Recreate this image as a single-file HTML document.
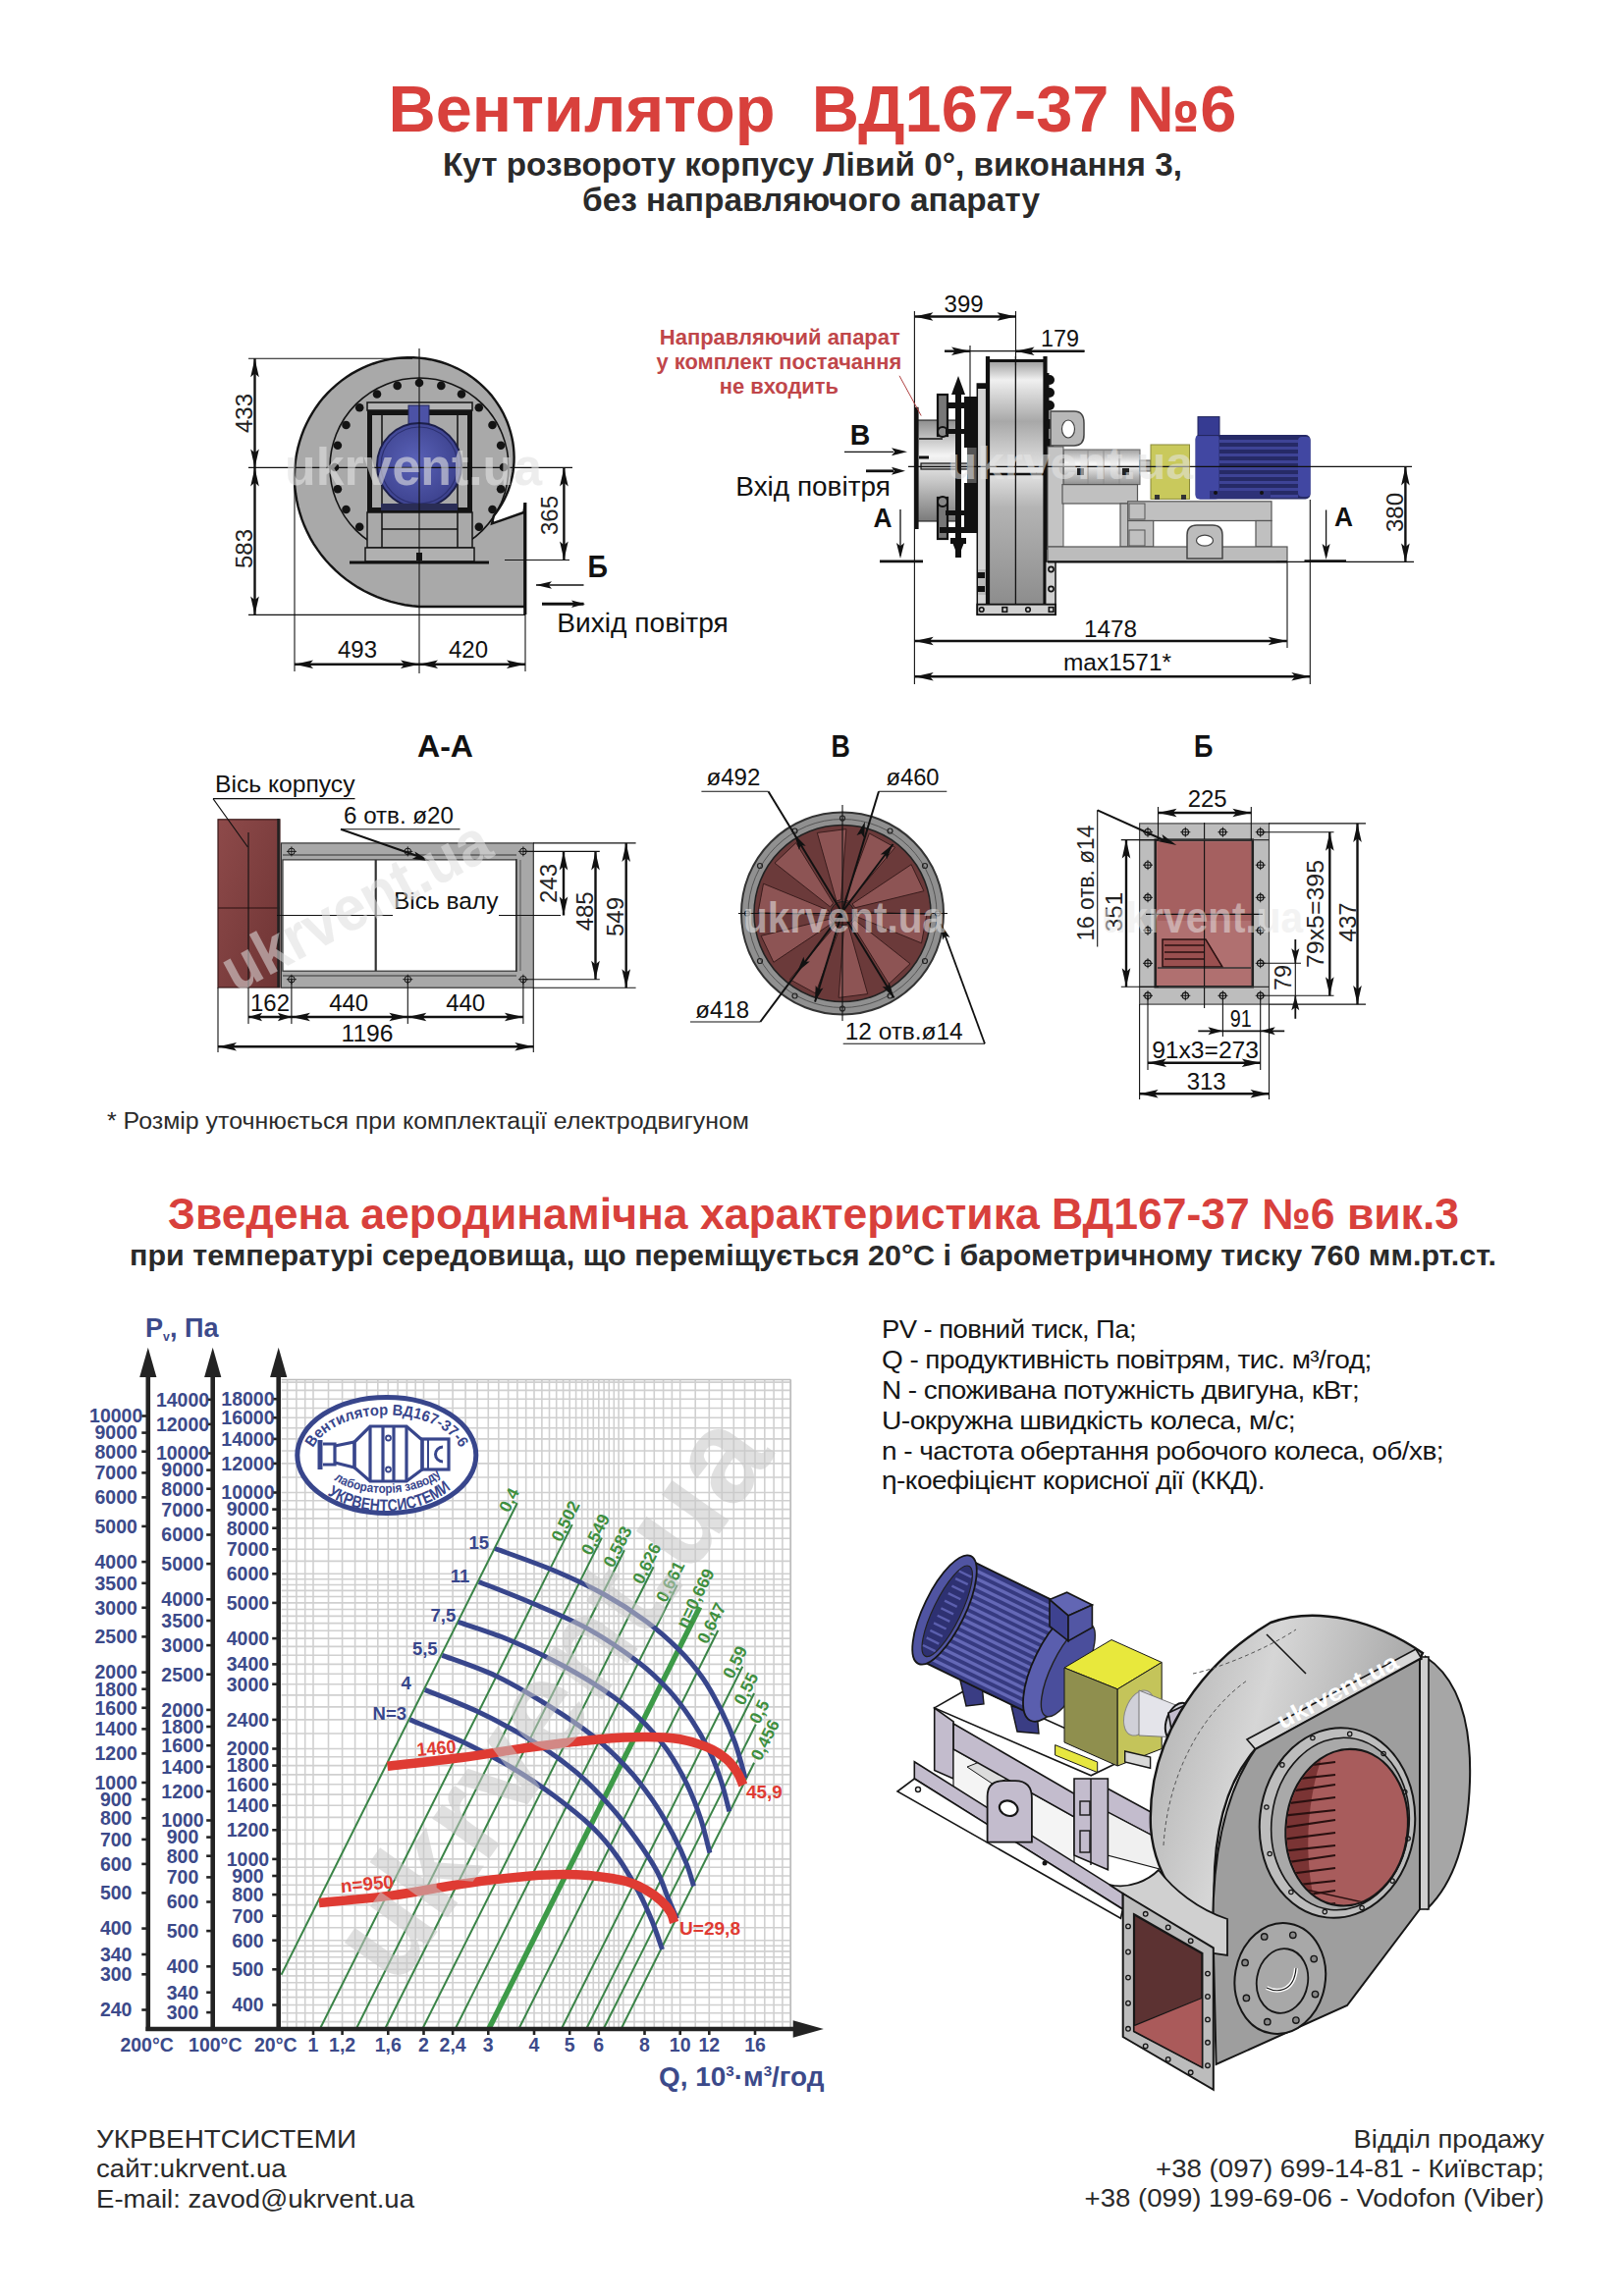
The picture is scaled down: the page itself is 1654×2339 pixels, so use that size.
<!DOCTYPE html>
<html><head><meta charset="utf-8"><title>ВД167-37 №6</title>
<style>
html,body{margin:0;padding:0;background:#fff;}
body{width:1654px;height:2339px;overflow:hidden;}
svg{display:block;font-family:"Liberation Sans",sans-serif;}
</style></head><body>
<svg width="1654" height="2339" viewBox="0 0 1654 2339">
<defs>
<linearGradient id="gCyl" x1="0" y1="0" x2="0" y2="1">
<stop offset="0" stop-color="#8e8e8e"/><stop offset="0.35" stop-color="#f4f4f4"/><stop offset="0.6" stop-color="#c8c8c8"/><stop offset="1" stop-color="#7a7a7a"/></linearGradient>
<linearGradient id="gDrum" x1="0" y1="0" x2="0" y2="1">
<stop offset="0" stop-color="#9a9a9a"/><stop offset="0.08" stop-color="#f0f0f0"/><stop offset="0.25" stop-color="#a8a8a8"/><stop offset="0.45" stop-color="#e6e6e6"/><stop offset="0.6" stop-color="#b4b4b4"/><stop offset="1" stop-color="#8c8c8c"/></linearGradient>
<linearGradient id="gShaft" x1="0" y1="0" x2="0" y2="1">
<stop offset="0" stop-color="#a0a0a0"/><stop offset="0.4" stop-color="#f8f8f8"/><stop offset="1" stop-color="#909090"/></linearGradient>
<radialGradient id="gMotorC" cx="0.45" cy="0.45" r="0.6">
<stop offset="0" stop-color="#5a62b8"/><stop offset="1" stop-color="#3a3f8a"/></radialGradient>
<linearGradient id="gMotorS" x1="0" y1="0" x2="0" y2="1">
<stop offset="0" stop-color="#2a2d6a"/><stop offset="0.5" stop-color="#3a3f90"/><stop offset="1" stop-color="#252860"/></linearGradient>
<linearGradient id="gScroll" x1="0" y1="0" x2="1" y2="0.3"><stop offset="0" stop-color="#acacac"/><stop offset="0.45" stop-color="#d6d6d6"/><stop offset="0.75" stop-color="#bababa"/><stop offset="1" stop-color="#a2a2a2"/></linearGradient>
<linearGradient id="gRed" x1="0" y1="0" x2="1" y2="1">
<stop offset="0" stop-color="#8e4a4a"/><stop offset="1" stop-color="#6e3434"/></linearGradient>
</defs>
<text x="395.5" y="134.0" font-size="66.5" font-weight="bold" fill="#d8403c" textLength="864.0" lengthAdjust="spacingAndGlyphs">Вентилятор  ВД167-37 №6</text>
<text x="451.0" y="179.0" font-size="33.5" font-weight="bold" fill="#2a2a2a" textLength="753.0" lengthAdjust="spacingAndGlyphs">Кут розвороту корпусу Лівий 0°, виконання 3,</text>
<text x="593.0" y="215.0" font-size="33.5" font-weight="bold" fill="#2a2a2a" textLength="466.0" lengthAdjust="spacingAndGlyphs">без направляючого апарату</text>
<text x="109.0" y="1150.0" font-size="23.5" fill="#2a2a2a" textLength="654.0" lengthAdjust="spacingAndGlyphs">* Розмір уточнюється при комплектації електродвигуном</text>
<text x="171.0" y="1252.0" font-size="44" font-weight="bold" fill="#d8403c" textLength="1315.0" lengthAdjust="spacingAndGlyphs">Зведена аеродинамічна характеристика ВД167-37 №6 вик.3</text>
<text x="132.0" y="1288.5" font-size="29.5" font-weight="bold" fill="#2a2a2a" textLength="1392.0" lengthAdjust="spacingAndGlyphs">при температурі середовища, що переміщується 20°С і барометричному тиску 760 мм.рт.ст.</text>
<text x="898.0" y="1363.4" font-size="25" fill="#161616" textLength="259.0" lengthAdjust="spacingAndGlyphs" letter-spacing="-0.5">PV - повний тиск, Па;</text>
<text x="898.0" y="1394.2" font-size="25" fill="#161616" textLength="498.7" lengthAdjust="spacingAndGlyphs" letter-spacing="-0.5">Q - продуктивність повітрям, тис. м³/год;</text>
<text x="898.0" y="1425.0" font-size="25" fill="#161616" textLength="486.3" lengthAdjust="spacingAndGlyphs" letter-spacing="-0.5">N - споживана потужність двигуна, кВт;</text>
<text x="898.0" y="1455.8" font-size="25" fill="#161616" textLength="421.0" lengthAdjust="spacingAndGlyphs" letter-spacing="-0.5">U-окружна швидкість колеса, м/с;</text>
<text x="898.0" y="1486.6" font-size="25" fill="#161616" textLength="571.9" lengthAdjust="spacingAndGlyphs" letter-spacing="-0.5">n - частота обертання робочого колеса, об/хв;</text>
<text x="898.0" y="1517.4" font-size="25" fill="#161616" textLength="390.0" lengthAdjust="spacingAndGlyphs" letter-spacing="-0.5">η-коефіцієнт корисної дії (ККД).</text>
<text x="98.0" y="2187.7" font-size="26.5" fill="#2a2a2a" textLength="265.0" lengthAdjust="spacingAndGlyphs">УКРВЕНТСИСТЕМИ</text>
<text x="98.0" y="2218.0" font-size="26.5" fill="#2a2a2a" textLength="193.7" lengthAdjust="spacingAndGlyphs">сайт:ukrvent.ua</text>
<text x="98.0" y="2248.7" font-size="26.5" fill="#2a2a2a" textLength="324.0" lengthAdjust="spacingAndGlyphs">E-mail: zavod@ukrvent.ua</text>
<text x="1572.6" y="2187.7" font-size="26.5" fill="#2a2a2a" text-anchor="end" textLength="194.0" lengthAdjust="spacingAndGlyphs">Відділ продажу</text>
<text x="1572.6" y="2217.9" font-size="26.5" fill="#2a2a2a" text-anchor="end" textLength="395.6" lengthAdjust="spacingAndGlyphs">+38 (097) 699-14-81 - Київстар;</text>
<text x="1572.6" y="2247.7" font-size="26.5" fill="#2a2a2a" text-anchor="end" textLength="468.0" lengthAdjust="spacingAndGlyphs">+38 (099) 199-69-06 - Vodofon (Viber)</text>
<path d="M427.0,618.0 L419.6,617.3 L412.3,616.2 L405.0,614.7 L397.9,612.9 L390.9,610.7 L384.1,608.1 L377.4,605.2 L370.9,602.0 L364.6,598.4 L358.6,594.6 L352.7,590.4 L347.1,585.9 L341.8,581.2 L336.8,576.2 L332.0,571.0 L327.5,565.6 L323.4,559.9 L319.5,554.1 L316.0,548.1 L312.9,541.9 L310.0,535.6 L307.5,529.2 L305.4,522.7 L303.6,516.1 L302.2,509.5 L301.1,502.8 L300.3,496.1 L300.0,489.4 L300.0,482.7 L300.3,476.0 L301.0,469.4 L302.0,462.9 L303.4,456.4 L305.1,450.1 L307.1,443.9 L309.4,437.8 L312.0,431.9 L315.0,426.1 L318.2,420.6 L321.7,415.2 L325.4,410.0 L329.4,405.1 L333.7,400.4 L338.1,396.0 L342.8,391.8 L347.7,387.9 L352.7,384.3 L357.9,380.9 L363.3,377.9 L368.7,375.1 L374.3,372.7 L380.0,370.5 L385.8,368.7 L391.6,367.1 L397.5,365.9 L403.4,365.0 L409.3,364.5 L415.2,364.2 L421.1,364.2 L427.0,364.6 L432.8,365.3 L438.5,366.2 L444.2,367.5 L449.7,369.0 L455.2,370.9 L460.5,373.0 L465.6,375.3 L470.7,378.0 L475.5,380.8 L480.2,383.9 L484.6,387.3 L488.9,390.8 L492.9,394.6 L496.8,398.5 L500.4,402.6 L503.7,406.9 L506.8,411.3 L509.7,415.9 L512.3,420.6 L514.6,425.4 L516.7,430.3 L518.5,435.3 L520.0,440.3 L521.3,445.4 L522.3,450.5 L523.0,455.6 L523.4,460.7 L523.6,465.8 L523.5,470.9 L523.1,476.0 L522.5,481.0 L521.6,485.9 L520.4,490.8 L519.0,495.6 L517.4,500.2 L515.5,504.8 L513.4,509.2 L511.1,513.4 L508.5,517.5 L505.8,521.5 L502.9,525.3 L501,533.5 L533.5,522 L534.8,513 L534.8,618 L427,618 Z" fill="#a9a9a9" stroke="#141414" stroke-width="2.4"/>
<circle cx="427.0" cy="476.0" r="91.0" fill="none" stroke="#141414" stroke-width="1.6"/>
<circle cx="427.0" cy="390.0" r="4.3" fill="#141414" stroke="none" stroke-width="1"/>
<circle cx="449.3" cy="392.9" r="4.3" fill="#141414" stroke="none" stroke-width="1"/>
<circle cx="470.0" cy="401.5" r="4.3" fill="#141414" stroke="none" stroke-width="1"/>
<circle cx="487.8" cy="415.2" r="4.3" fill="#141414" stroke="none" stroke-width="1"/>
<circle cx="501.5" cy="433.0" r="4.3" fill="#141414" stroke="none" stroke-width="1"/>
<circle cx="510.1" cy="453.7" r="4.3" fill="#141414" stroke="none" stroke-width="1"/>
<circle cx="513.0" cy="476.0" r="4.3" fill="#141414" stroke="none" stroke-width="1"/>
<circle cx="510.1" cy="498.3" r="4.3" fill="#141414" stroke="none" stroke-width="1"/>
<circle cx="501.5" cy="519.0" r="4.3" fill="#141414" stroke="none" stroke-width="1"/>
<circle cx="487.8" cy="536.8" r="4.3" fill="#141414" stroke="none" stroke-width="1"/>
<circle cx="366.2" cy="536.8" r="4.3" fill="#141414" stroke="none" stroke-width="1"/>
<circle cx="352.5" cy="519.0" r="4.3" fill="#141414" stroke="none" stroke-width="1"/>
<circle cx="343.9" cy="498.3" r="4.3" fill="#141414" stroke="none" stroke-width="1"/>
<circle cx="341.0" cy="476.0" r="4.3" fill="#141414" stroke="none" stroke-width="1"/>
<circle cx="343.9" cy="453.7" r="4.3" fill="#141414" stroke="none" stroke-width="1"/>
<circle cx="352.5" cy="433.0" r="4.3" fill="#141414" stroke="none" stroke-width="1"/>
<circle cx="366.2" cy="415.2" r="4.3" fill="#141414" stroke="none" stroke-width="1"/>
<circle cx="384.0" cy="401.5" r="4.3" fill="#141414" stroke="none" stroke-width="1"/>
<circle cx="404.7" cy="392.9" r="4.3" fill="#141414" stroke="none" stroke-width="1"/>
<rect x="374.0" y="410.0" width="107.0" height="8.0" fill="#b4b4b4" stroke="#141414" stroke-width="1.5"/>
<rect x="374.0" y="418.0" width="107.0" height="104.0" fill="#a9a9a9" stroke="none" stroke-width="1"/>
<rect x="374.0" y="418.0" width="5.0" height="104.0" fill="#141414" stroke="none" stroke-width="1"/>
<rect x="476.0" y="418.0" width="5.0" height="104.0" fill="#141414" stroke="none" stroke-width="1"/>
<rect x="374.0" y="418.0" width="107.0" height="5.0" fill="#141414" stroke="none" stroke-width="1"/>
<rect x="374.0" y="517.0" width="107.0" height="5.0" fill="#141414" stroke="none" stroke-width="1"/>
<line x1="389.0" y1="423.0" x2="389.0" y2="517.0" stroke="#111" stroke-width="1.5"/>
<line x1="466.0" y1="423.0" x2="466.0" y2="517.0" stroke="#111" stroke-width="1.5"/>
<rect x="374.0" y="522.0" width="107.0" height="36.0" fill="#a9a9a9" stroke="#141414" stroke-width="1.5"/>
<line x1="389.0" y1="522.0" x2="389.0" y2="558.0" stroke="#111" stroke-width="1.5"/>
<line x1="466.0" y1="522.0" x2="466.0" y2="558.0" stroke="#111" stroke-width="1.5"/>
<line x1="389.0" y1="539.0" x2="466.0" y2="539.0" stroke="#111" stroke-width="1.5"/>
<rect x="372.0" y="558.0" width="111.0" height="14.0" fill="#b0b0b0" stroke="#141414" stroke-width="1.5"/>
<line x1="356.0" y1="573.0" x2="498.0" y2="573.0" stroke="#111" stroke-width="3.2"/>
<rect x="424.0" y="563.0" width="6.0" height="8.0" fill="#141414" stroke="none" stroke-width="1"/>
<rect x="416.0" y="413.0" width="21.0" height="20.0" fill="#4c52a6" stroke="#22265a" stroke-width="1"/>
<circle cx="427.0" cy="474.0" r="43.0" fill="url(#gMotorC)" stroke="#1c1f4a" stroke-width="2"/>
<circle cx="427.0" cy="474.0" r="39.0" fill="none" stroke="#2c3070" stroke-width="1.2"/>
<rect x="388.0" y="513.0" width="78.0" height="7.0" fill="#2a2d55" stroke="none" stroke-width="1"/>
<line x1="427.0" y1="355.0" x2="427.0" y2="686.0" stroke="#111" stroke-width="1.1"/>
<line x1="253.0" y1="476.4" x2="583.0" y2="476.4" stroke="#111" stroke-width="1.1"/>
<line x1="253.0" y1="365.2" x2="420.0" y2="365.2" stroke="#111" stroke-width="1.1"/>
<line x1="253.0" y1="626.4" x2="535.0" y2="626.4" stroke="#111" stroke-width="1.1"/>
<line x1="259.5" y1="365.2" x2="259.5" y2="476.4" stroke="#111" stroke-width="2.4"/>
<path d="M259.5,365.2 L263.8,384.2 L259.5,380.4 L255.2,384.2 Z" fill="#111"/>
<path d="M259.5,476.4 L255.2,457.4 L259.5,461.2 L263.8,457.4 Z" fill="#111"/>
<line x1="259.5" y1="476.4" x2="259.5" y2="626.4" stroke="#111" stroke-width="2.4"/>
<path d="M259.5,476.4 L263.8,495.4 L259.5,491.6 L255.2,495.4 Z" fill="#111"/>
<path d="M259.5,626.4 L255.2,607.4 L259.5,611.2 L263.8,607.4 Z" fill="#111"/>
<text transform="translate(248.0,421.0) rotate(-90)" x="0" y="8.6" font-size="24.5" fill="#222" text-anchor="middle" textLength="40.0" lengthAdjust="spacingAndGlyphs">433</text>
<text transform="translate(248.0,559.0) rotate(-90)" x="0" y="8.6" font-size="24.5" fill="#222" text-anchor="middle" textLength="40.0" lengthAdjust="spacingAndGlyphs">583</text>
<line x1="300.0" y1="476.0" x2="300.0" y2="684.0" stroke="#111" stroke-width="1.1"/>
<line x1="535.0" y1="626.0" x2="535.0" y2="684.0" stroke="#111" stroke-width="1.1"/>
<line x1="300.0" y1="676.8" x2="427.0" y2="676.8" stroke="#111" stroke-width="2.4"/>
<path d="M300.0,676.8 L319.0,672.5 L315.2,676.8 L319.0,681.1 Z" fill="#111"/>
<path d="M427.0,676.8 L408.0,681.1 L411.8,676.8 L408.0,672.5 Z" fill="#111"/>
<line x1="427.0" y1="676.8" x2="535.0" y2="676.8" stroke="#111" stroke-width="2.4"/>
<path d="M427.0,676.8 L446.0,672.5 L442.2,676.8 L446.0,681.1 Z" fill="#111"/>
<path d="M535.0,676.8 L516.0,681.1 L519.8,676.8 L516.0,672.5 Z" fill="#111"/>
<text x="364.0" y="669.7" font-size="24.5" fill="#111" text-anchor="middle" textLength="40.0" lengthAdjust="spacingAndGlyphs">493</text>
<text x="477.0" y="669.7" font-size="24.5" fill="#111" text-anchor="middle" textLength="40.0" lengthAdjust="spacingAndGlyphs">420</text>
<line x1="514.0" y1="570.5" x2="580.0" y2="570.5" stroke="#111" stroke-width="1.1"/>
<line x1="574.4" y1="476.5" x2="574.4" y2="570.5" stroke="#111" stroke-width="2.4"/>
<path d="M574.4,476.5 L578.7,495.5 L574.4,491.7 L570.1,495.5 Z" fill="#111"/>
<path d="M574.4,570.5 L570.1,551.5 L574.4,555.3 L578.7,551.5 Z" fill="#111"/>
<text transform="translate(559.0,525.0) rotate(-90)" x="0" y="8.6" font-size="24.5" fill="#222" text-anchor="middle" textLength="40.0" lengthAdjust="spacingAndGlyphs">365</text>
<line x1="534.8" y1="512.0" x2="534.8" y2="626.0" stroke="#111" stroke-width="3.2"/>
<text x="598.5" y="588.0" font-size="31" font-weight="bold" fill="#111" textLength="20.5" lengthAdjust="spacingAndGlyphs">Б</text>
<line x1="546.0" y1="596.0" x2="594.5" y2="596.0" stroke="#111" stroke-width="1.3"/>
<path d="M546.0,596.0 L562.0,592.2 L558.8,596.0 L562.0,599.8 Z" fill="#111"/>
<line x1="552.0" y1="615.3" x2="594.5" y2="615.3" stroke="#111" stroke-width="3"/>
<path d="M596.0,615.3 L582.0,619.1 L584.8,615.3 L582.0,611.5 Z" fill="#111"/>
<text x="567.3" y="643.6" font-size="27" fill="#111" textLength="174.5" lengthAdjust="spacingAndGlyphs">Вихід повітря</text>
<text x="290.0" y="494.0" font-size="54" font-weight="bold" fill="#e2e2e2" textLength="262.0" lengthAdjust="spacingAndGlyphs" opacity="0.6">ukrvent.ua</text>
<rect x="933.0" y="428.0" width="42.0" height="103.0" fill="url(#gCyl)" stroke="none" stroke-width="1"/>
<line x1="933.0" y1="428.0" x2="975.0" y2="428.0" stroke="#111" stroke-width="1.2"/>
<line x1="933.0" y1="531.0" x2="975.0" y2="531.0" stroke="#111" stroke-width="1.2"/>
<line x1="933.5" y1="414.8" x2="933.5" y2="539.0" stroke="#111" stroke-width="4.2"/>
<line x1="936.0" y1="447.0" x2="960.0" y2="447.0" stroke="#111" stroke-width="1.5"/>
<line x1="936.0" y1="466.0" x2="946.0" y2="466.0" stroke="#111" stroke-width="3"/>
<rect x="938.0" y="472.0" width="50.0" height="6.0" fill="#bdbdbd" stroke="#111" stroke-width="1.2"/>
<rect x="973.0" y="392.0" width="6.0" height="176.0" fill="#111" stroke="none" stroke-width="1"/>
<path d="M969,402 L976,383 L983,402 Z" fill="#111" stroke="none" stroke-width="1"/>
<path d="M969,550 L976,568 L983,550 Z" fill="#111" stroke="none" stroke-width="1"/>
<rect x="957.0" y="410.0" width="40.0" height="6.0" fill="#111" stroke="none" stroke-width="1"/>
<rect x="955.0" y="402.0" width="10.0" height="42.0" fill="#777" stroke="#111" stroke-width="2.2"/>
<circle cx="960.0" cy="440.0" r="5.0" fill="#888" stroke="#111" stroke-width="2"/>
<rect x="963.0" y="437.0" width="30.0" height="5.0" fill="#111" stroke="none" stroke-width="1"/>
<rect x="982.0" y="404.0" width="13.0" height="52.0" fill="#111" stroke="none" stroke-width="1"/>
<rect x="982.0" y="492.0" width="13.0" height="48.0" fill="#111" stroke="none" stroke-width="1"/>
<rect x="985.0" y="456.0" width="10.0" height="36.0" fill="#555" stroke="none" stroke-width="1"/>
<rect x="955.0" y="507.0" width="10.0" height="42.0" fill="#777" stroke="#111" stroke-width="2.2"/>
<circle cx="960.0" cy="511.0" r="5.0" fill="#888" stroke="#111" stroke-width="2"/>
<rect x="963.0" y="520.0" width="30.0" height="5.0" fill="#111" stroke="none" stroke-width="1"/>
<rect x="957.0" y="537.0" width="40.0" height="6.0" fill="#111" stroke="none" stroke-width="1"/>
<rect x="968.0" y="548.0" width="16.0" height="6.0" fill="#111" stroke="none" stroke-width="1"/>
<rect x="995.3" y="391.0" width="10.3" height="235.0" fill="#d4d4d4" stroke="#111" stroke-width="1.5"/>
<rect x="995.3" y="391.0" width="10.3" height="5.0" fill="#111" stroke="none" stroke-width="1"/>
<rect x="996.0" y="580.0" width="8.0" height="26.0" fill="#bbb" stroke="none" stroke-width="1"/>
<rect x="996.0" y="583.0" width="7.0" height="6.0" fill="#111" stroke="none" stroke-width="1"/>
<rect x="996.0" y="597.0" width="7.0" height="6.0" fill="#111" stroke="none" stroke-width="1"/>
<rect x="1005.6" y="367.0" width="59.1" height="250.0" fill="url(#gDrum)" stroke="none" stroke-width="1"/>
<line x1="1006.0" y1="363.0" x2="1006.0" y2="617.0" stroke="#111" stroke-width="4.2"/>
<line x1="1064.5" y1="363.0" x2="1064.5" y2="617.0" stroke="#111" stroke-width="4.2"/>
<line x1="1005.0" y1="367.5" x2="1065.0" y2="367.5" stroke="#111" stroke-width="3"/>
<line x1="1034.4" y1="363.0" x2="1034.4" y2="617.0" stroke="#111" stroke-width="1.3"/>
<line x1="1006.0" y1="483.0" x2="1064.0" y2="483.0" stroke="#111" stroke-width="2.4"/>
<line x1="1067.0" y1="380.0" x2="1067.0" y2="560.0" stroke="#111" stroke-width="3"/>
<circle cx="1069.0" cy="387.0" r="5.0" fill="#111" stroke="none" stroke-width="1"/>
<circle cx="1069.0" cy="400.0" r="5.0" fill="#111" stroke="none" stroke-width="1"/>
<circle cx="1069.0" cy="413.0" r="5.0" fill="#111" stroke="none" stroke-width="1"/>
<circle cx="1069.0" cy="432.0" r="5.0" fill="#111" stroke="none" stroke-width="1"/>
<circle cx="1069.0" cy="452.0" r="5.0" fill="#111" stroke="none" stroke-width="1"/>
<circle cx="1069.0" cy="475.0" r="5.0" fill="#111" stroke="none" stroke-width="1"/>
<circle cx="1069.0" cy="497.0" r="5.0" fill="#111" stroke="none" stroke-width="1"/>
<circle cx="1069.0" cy="518.0" r="5.0" fill="#111" stroke="none" stroke-width="1"/>
<circle cx="1069.0" cy="536.0" r="5.0" fill="#111" stroke="none" stroke-width="1"/>
<rect x="1064.7" y="572.0" width="10.3" height="54.0" fill="#d0d0d0" stroke="#111" stroke-width="1.5"/>
<circle cx="1070.5" cy="580.0" r="2.6" fill="none" stroke="#111" stroke-width="1.6"/>
<circle cx="1070.5" cy="600.0" r="2.6" fill="none" stroke="#111" stroke-width="1.6"/>
<rect x="995.3" y="615.7" width="79.7" height="10.5" fill="#d0d0d0" stroke="#111" stroke-width="1.8"/>
<circle cx="999.7" cy="621.0" r="2.3" fill="none" stroke="#111" stroke-width="1.6"/>
<circle cx="1047.0" cy="621.0" r="2.3" fill="none" stroke="#111" stroke-width="1.6"/>
<rect x="1021.0" y="618.7" width="4.6" height="4.6" fill="none" stroke="#111" stroke-width="1.6"/>
<rect x="1068.3" y="618.7" width="4.6" height="4.6" fill="none" stroke="#111" stroke-width="1.6"/>
<path d="M1070,419 L1094,419 Q1104,419 1104,431 L1104,443 Q1104,454 1094,454 L1070,454 Z" fill="#b8b8b8" stroke="#444" stroke-width="1.5"/>
<ellipse cx="1088" cy="437" rx="6.5" ry="9" fill="#fff" stroke="#444" stroke-width="1.2"/>
<rect x="1067.0" y="455.0" width="16.0" height="102.0" fill="#c4c4c4" stroke="#555" stroke-width="1"/>
<rect x="1083.4" y="458.0" width="77.6" height="35.6" fill="url(#gShaft)" stroke="#666" stroke-width="1"/>
<line x1="1108.0" y1="459.0" x2="1108.0" y2="493.0" stroke="#888" stroke-width="0.8"/>
<line x1="1124.0" y1="459.0" x2="1124.0" y2="493.0" stroke="#888" stroke-width="0.8"/>
<line x1="1140.0" y1="459.0" x2="1140.0" y2="493.0" stroke="#888" stroke-width="0.8"/>
<rect x="1097.0" y="477.0" width="7.0" height="7.0" fill="#222" stroke="none" stroke-width="1"/>
<rect x="1143.0" y="477.0" width="7.0" height="7.0" fill="#222" stroke="none" stroke-width="1"/>
<rect x="1161.0" y="469.0" width="11.0" height="11.0" fill="#bbb" stroke="#555" stroke-width="1"/>
<rect x="1082.0" y="493.6" width="76.5" height="19.4" fill="#c0c0c0" stroke="#555" stroke-width="1.2"/>
<rect x="1141.0" y="513.0" width="17.5" height="44.0" fill="#c0c0c0" stroke="#555" stroke-width="1.2"/>
<rect x="1148.7" y="510.8" width="146.3" height="19.7" fill="#c0c0c0" stroke="#555" stroke-width="1.2"/>
<rect x="1148.7" y="530.5" width="26.0" height="26.5" fill="#c0c0c0" stroke="#555" stroke-width="1.2"/>
<rect x="1279.0" y="530.5" width="16.0" height="26.5" fill="#c0c0c0" stroke="#555" stroke-width="1.2"/>
<rect x="1150.0" y="513.0" width="16.0" height="16.0" fill="none" stroke="#555" stroke-width="1"/>
<rect x="1150.0" y="540.0" width="16.0" height="16.0" fill="none" stroke="#555" stroke-width="1"/>
<rect x="1067.0" y="557.0" width="244.0" height="15.4" fill="#bcbcbc" stroke="#555" stroke-width="1.2"/>
<line x1="1067.0" y1="572.4" x2="1311.0" y2="572.4" stroke="#111" stroke-width="2.2"/>
<path d="M1209,569 L1209,545 Q1209,535 1219,535 L1235,535 Q1245,535 1245,545 L1245,569 Z" fill="#bcbcbc" stroke="#444" stroke-width="1.5"/>
<ellipse cx="1227" cy="550.7" rx="8.5" ry="5.5" fill="#fff" stroke="#444" stroke-width="1.2"/>
<rect x="1172.0" y="453.0" width="39.5" height="55.4" fill="#c9c95c" stroke="#8a8a3a" stroke-width="1"/>
<rect x="1176.0" y="504.0" width="5.0" height="5.0" fill="#333" stroke="none" stroke-width="1"/>
<rect x="1203.0" y="504.0" width="5.0" height="5.0" fill="#333" stroke="none" stroke-width="1"/>
<rect x="1217.6" y="443.0" width="117.0" height="65.4" fill="#262a66" stroke="none" stroke-width="1" rx="5"/>
<rect x="1217.6" y="443.0" width="24.0" height="65.4" fill="#4147a2" stroke="none" stroke-width="1" rx="4"/>
<rect x="1242.0" y="448.0" width="80.0" height="3.0" fill="#3e4396" stroke="none" stroke-width="1"/>
<rect x="1242.0" y="455.0" width="80.0" height="3.0" fill="#3e4396" stroke="none" stroke-width="1"/>
<rect x="1242.0" y="462.0" width="80.0" height="3.0" fill="#3e4396" stroke="none" stroke-width="1"/>
<rect x="1242.0" y="469.0" width="80.0" height="3.0" fill="#3e4396" stroke="none" stroke-width="1"/>
<rect x="1242.0" y="476.0" width="80.0" height="3.0" fill="#3e4396" stroke="none" stroke-width="1"/>
<rect x="1242.0" y="483.0" width="80.0" height="3.0" fill="#3e4396" stroke="none" stroke-width="1"/>
<rect x="1242.0" y="490.0" width="80.0" height="3.0" fill="#3e4396" stroke="none" stroke-width="1"/>
<rect x="1242.0" y="497.0" width="80.0" height="3.0" fill="#3e4396" stroke="none" stroke-width="1"/>
<rect x="1242.0" y="504.0" width="80.0" height="3.0" fill="#3e4396" stroke="none" stroke-width="1"/>
<rect x="1322.0" y="445.0" width="12.6" height="61.0" fill="#4147a2" stroke="none" stroke-width="1" rx="4"/>
<rect x="1220.0" y="424.6" width="22.0" height="19.0" fill="#363b92" stroke="#22255a" stroke-width="1"/>
<rect x="1232.0" y="500.0" width="62.0" height="8.0" fill="#2e3278" stroke="none" stroke-width="1"/>
<circle cx="1238.0" cy="502.0" r="2.0" fill="#111" stroke="none" stroke-width="1"/>
<circle cx="1285.0" cy="502.0" r="2.0" fill="#111" stroke="none" stroke-width="1"/>
<line x1="925.0" y1="475.4" x2="1438.0" y2="475.4" stroke="#111" stroke-width="1.1"/>
<line x1="931.4" y1="317.0" x2="931.4" y2="697.0" stroke="#111" stroke-width="1.1"/>
<line x1="1034.5" y1="317.0" x2="1034.5" y2="372.0" stroke="#111" stroke-width="1.1"/>
<line x1="988.0" y1="352.0" x2="988.0" y2="425.0" stroke="#111" stroke-width="1.1"/>
<line x1="931.4" y1="322.5" x2="1034.5" y2="322.5" stroke="#111" stroke-width="2.4"/>
<path d="M931.4,322.5 L950.4,318.2 L946.6,322.5 L950.4,326.8 Z" fill="#111"/>
<path d="M1034.5,322.5 L1015.5,326.8 L1019.3,322.5 L1015.5,318.2 Z" fill="#111"/>
<text x="981.6" y="318.4" font-size="24.5" fill="#111" text-anchor="middle" textLength="40.0" lengthAdjust="spacingAndGlyphs">399</text>
<line x1="962.0" y1="357.7" x2="988.0" y2="357.7" stroke="#111" stroke-width="2.4"/>
<path d="M988.0,357.7 L969.0,362.0 L972.8,357.7 L969.0,353.4 Z" fill="#111"/>
<line x1="988.0" y1="357.7" x2="1104.5" y2="357.7" stroke="#111" stroke-width="1.2"/>
<line x1="1034.5" y1="357.7" x2="1104.5" y2="357.7" stroke="#111" stroke-width="2.4"/>
<path d="M1034.5,357.7 L1053.5,353.4 L1049.7,357.7 L1053.5,362.0 Z" fill="#111"/>
<text x="1079.5" y="352.6" font-size="24.5" fill="#111" text-anchor="middle" textLength="39.0" lengthAdjust="spacingAndGlyphs">179</text>
<line x1="1311.0" y1="572.0" x2="1311.0" y2="660.0" stroke="#111" stroke-width="1.1"/>
<line x1="1334.3" y1="509.0" x2="1334.3" y2="697.0" stroke="#111" stroke-width="1.1"/>
<line x1="931.7" y1="653.0" x2="1310.8" y2="653.0" stroke="#111" stroke-width="2.4"/>
<path d="M931.7,653.0 L950.7,648.7 L946.9,653.0 L950.7,657.3 Z" fill="#111"/>
<path d="M1310.8,653.0 L1291.8,657.3 L1295.6,653.0 L1291.8,648.7 Z" fill="#111"/>
<text x="1131.0" y="648.7" font-size="24.5" fill="#111" text-anchor="middle" textLength="54.0" lengthAdjust="spacingAndGlyphs">1478</text>
<line x1="931.7" y1="689.2" x2="1334.3" y2="689.2" stroke="#111" stroke-width="2.4"/>
<path d="M931.7,689.2 L950.7,684.9 L946.9,689.2 L950.7,693.5 Z" fill="#111"/>
<path d="M1334.3,689.2 L1315.3,693.5 L1319.1,689.2 L1315.3,684.9 Z" fill="#111"/>
<text x="1138.0" y="682.7" font-size="24.5" fill="#111" text-anchor="middle" textLength="110.0" lengthAdjust="spacingAndGlyphs">max1571*</text>
<line x1="1300.0" y1="572.4" x2="1440.0" y2="572.4" stroke="#111" stroke-width="1.1"/>
<line x1="1431.4" y1="475.4" x2="1431.4" y2="572.4" stroke="#111" stroke-width="2.4"/>
<path d="M1431.4,475.4 L1435.7,494.4 L1431.4,490.6 L1427.1,494.4 Z" fill="#111"/>
<path d="M1431.4,572.4 L1427.1,553.4 L1431.4,557.2 L1435.7,553.4 Z" fill="#111"/>
<text transform="translate(1420.0,522.0) rotate(-90)" x="0" y="8.6" font-size="24.5" fill="#222" text-anchor="middle" textLength="40.0" lengthAdjust="spacingAndGlyphs">380</text>
<line x1="917.0" y1="519.0" x2="917.0" y2="566.0" stroke="#111" stroke-width="1.3"/>
<path d="M917.0,569.0 L913.0,553.0 L917.0,556.2 L921.0,553.0 Z" fill="#111"/>
<line x1="896.0" y1="571.9" x2="940.0" y2="571.9" stroke="#111" stroke-width="2.8"/>
<text x="889.6" y="536.7" font-size="27" font-weight="bold" fill="#111" textLength="19.0" lengthAdjust="spacingAndGlyphs">А</text>
<line x1="1350.6" y1="519.5" x2="1350.6" y2="567.0" stroke="#111" stroke-width="1.3"/>
<path d="M1350.6,570.0 L1346.6,554.0 L1350.6,557.2 L1354.6,554.0 Z" fill="#111"/>
<line x1="1328.5" y1="571.7" x2="1371.0" y2="571.7" stroke="#111" stroke-width="2.8"/>
<text x="1359.0" y="536.0" font-size="27" font-weight="bold" fill="#111" textLength="19.0" lengthAdjust="spacingAndGlyphs">А</text>
<text x="865.8" y="452.6" font-size="30" font-weight="bold" fill="#111" textLength="20.5" lengthAdjust="spacingAndGlyphs">В</text>
<line x1="860.0" y1="460.3" x2="910.0" y2="460.3" stroke="#111" stroke-width="1.3"/>
<path d="M924.0,460.3 L908.0,464.3 L911.2,460.3 L908.0,456.3 Z" fill="#111"/>
<line x1="882.0" y1="479.8" x2="910.0" y2="479.8" stroke="#111" stroke-width="2.8"/>
<path d="M922.0,479.8 L908.0,483.8 L910.8,479.8 L908.0,475.8 Z" fill="#111"/>
<text x="749.3" y="504.7" font-size="27" fill="#111" textLength="157.5" lengthAdjust="spacingAndGlyphs">Вхід повітря</text>
<text x="671.8" y="351.4" font-size="22" font-weight="bold" fill="#c0464a" textLength="245.0" lengthAdjust="spacingAndGlyphs">Направляючий апарат</text>
<text x="668.5" y="375.8" font-size="22" font-weight="bold" fill="#c0464a" textLength="249.7" lengthAdjust="spacingAndGlyphs">у комплект постачання</text>
<text x="732.8" y="401.0" font-size="22" font-weight="bold" fill="#c0464a" textLength="121.2" lengthAdjust="spacingAndGlyphs">не входить</text>
<line x1="916.0" y1="382.8" x2="938.2" y2="423.5" stroke="#b04040" stroke-width="1"/>
<text x="965.0" y="488.0" font-size="46" font-weight="bold" fill="#e6e6e6" textLength="250.0" lengthAdjust="spacingAndGlyphs" opacity="0.55">ukrvent.ua</text>
<text x="425.0" y="771.0" font-size="31" font-weight="bold" fill="#111" textLength="57.0" lengthAdjust="spacingAndGlyphs">А-А</text>
<rect x="222.0" y="834.8" width="63.0" height="171.2" fill="url(#gRed)" stroke="#3a1a1a" stroke-width="1.2"/>
<line x1="222.0" y1="925.0" x2="285.0" y2="925.0" stroke="#2a1010" stroke-width="1.2"/>
<line x1="283.5" y1="834.0" x2="283.5" y2="1006.0" stroke="#222" stroke-width="2.5"/>
<rect x="286.4" y="858.9" width="256.9" height="147.3" fill="#a8a8a8" stroke="#333" stroke-width="1.2"/>
<rect x="288.0" y="875.9" width="237.8" height="113.3" fill="#ffffff" stroke="#333" stroke-width="1.2"/>
<line x1="288.0" y1="871.0" x2="526.0" y2="871.0" stroke="#333" stroke-width="1.2"/>
<line x1="288.0" y1="994.0" x2="526.0" y2="994.0" stroke="#333" stroke-width="1.2"/>
<line x1="382.7" y1="876.0" x2="382.7" y2="989.0" stroke="#333" stroke-width="2.2"/>
<line x1="525.8" y1="875.0" x2="525.8" y2="990.0" stroke="#333" stroke-width="1.5"/>
<line x1="530.0" y1="876.0" x2="530.0" y2="989.0" stroke="#666" stroke-width="1.2"/>
<circle cx="296.9" cy="867.4" r="3.3" fill="none" stroke="#111" stroke-width="1"/>
<line x1="291.9" y1="867.4" x2="301.9" y2="867.4" stroke="#111" stroke-width="0.9"/>
<line x1="296.9" y1="862.4" x2="296.9" y2="872.4" stroke="#111" stroke-width="0.9"/>
<circle cx="415.3" cy="867.4" r="3.3" fill="none" stroke="#111" stroke-width="1"/>
<line x1="410.3" y1="867.4" x2="420.3" y2="867.4" stroke="#111" stroke-width="0.9"/>
<line x1="415.3" y1="862.4" x2="415.3" y2="872.4" stroke="#111" stroke-width="0.9"/>
<circle cx="532.9" cy="867.4" r="3.3" fill="none" stroke="#111" stroke-width="1"/>
<line x1="527.9" y1="867.4" x2="537.9" y2="867.4" stroke="#111" stroke-width="0.9"/>
<line x1="532.9" y1="862.4" x2="532.9" y2="872.4" stroke="#111" stroke-width="0.9"/>
<circle cx="296.9" cy="997.7" r="3.3" fill="none" stroke="#111" stroke-width="1"/>
<line x1="291.9" y1="997.7" x2="301.9" y2="997.7" stroke="#111" stroke-width="0.9"/>
<line x1="296.9" y1="992.7" x2="296.9" y2="1002.7" stroke="#111" stroke-width="0.9"/>
<circle cx="415.3" cy="997.7" r="3.3" fill="none" stroke="#111" stroke-width="1"/>
<line x1="410.3" y1="997.7" x2="420.3" y2="997.7" stroke="#111" stroke-width="0.9"/>
<line x1="415.3" y1="992.7" x2="415.3" y2="1002.7" stroke="#111" stroke-width="0.9"/>
<circle cx="532.9" cy="997.7" r="3.3" fill="none" stroke="#111" stroke-width="1"/>
<line x1="527.9" y1="997.7" x2="537.9" y2="997.7" stroke="#111" stroke-width="0.9"/>
<line x1="532.9" y1="992.7" x2="532.9" y2="1002.7" stroke="#111" stroke-width="0.9"/>
<text x="219.0" y="806.5" font-size="24.5" fill="#111" textLength="142.5" lengthAdjust="spacingAndGlyphs">Вісь корпусу</text>
<line x1="217.0" y1="813.6" x2="361.5" y2="813.6" stroke="#111" stroke-width="1.1"/>
<line x1="217.0" y1="813.6" x2="252.4" y2="863.0" stroke="#111" stroke-width="1.1"/>
<line x1="253.0" y1="848.0" x2="253.0" y2="1043.0" stroke="#111" stroke-width="1.1"/>
<text x="350.0" y="839.0" font-size="24.5" fill="#111" textLength="112.0" lengthAdjust="spacingAndGlyphs">6 отв. ø20</text>
<line x1="347.0" y1="844.7" x2="468.5" y2="844.7" stroke="#111" stroke-width="1.1"/>
<line x1="347.0" y1="844.7" x2="425.0" y2="872.0" stroke="#111" stroke-width="2"/>
<path d="M438.0,877.3 L419.7,875.0 L424.4,872.4 L422.4,867.5 Z" fill="#111"/>
<line x1="282.0" y1="932.5" x2="400.0" y2="932.5" stroke="#111" stroke-width="1.1"/>
<line x1="508.0" y1="932.5" x2="571.0" y2="932.5" stroke="#111" stroke-width="1.1"/>
<text x="401.0" y="925.5" font-size="24.5" fill="#111" textLength="106.4" lengthAdjust="spacingAndGlyphs">Вісь валу</text>
<line x1="543.0" y1="858.9" x2="647.6" y2="858.9" stroke="#111" stroke-width="1.1"/>
<line x1="543.0" y1="1006.2" x2="647.6" y2="1006.2" stroke="#111" stroke-width="1.1"/>
<line x1="533.0" y1="867.4" x2="610.8" y2="867.4" stroke="#111" stroke-width="1.1"/>
<line x1="533.0" y1="997.7" x2="610.8" y2="997.7" stroke="#111" stroke-width="1.1"/>
<line x1="574.0" y1="867.4" x2="574.0" y2="932.5" stroke="#111" stroke-width="2.4"/>
<path d="M574.0,867.4 L578.3,886.4 L574.0,882.6 L569.7,886.4 Z" fill="#111"/>
<path d="M574.0,932.5 L569.7,913.5 L574.0,917.3 L578.3,913.5 Z" fill="#111"/>
<text transform="translate(558.4,900.0) rotate(-90)" x="0" y="8.6" font-size="24.5" fill="#222" text-anchor="middle" textLength="40.0" lengthAdjust="spacingAndGlyphs">243</text>
<line x1="606.5" y1="867.4" x2="606.5" y2="997.7" stroke="#111" stroke-width="2.4"/>
<path d="M606.5,867.4 L610.8,886.4 L606.5,882.6 L602.2,886.4 Z" fill="#111"/>
<path d="M606.5,997.7 L602.2,978.7 L606.5,982.5 L610.8,978.7 Z" fill="#111"/>
<text transform="translate(595.2,928.3) rotate(-90)" x="0" y="8.6" font-size="24.5" fill="#222" text-anchor="middle" textLength="40.0" lengthAdjust="spacingAndGlyphs">485</text>
<line x1="637.7" y1="858.9" x2="637.7" y2="1006.2" stroke="#111" stroke-width="2.4"/>
<path d="M637.7,858.9 L642.0,877.9 L637.7,874.1 L633.4,877.9 Z" fill="#111"/>
<path d="M637.7,1006.2 L633.4,987.2 L637.7,991.0 L642.0,987.2 Z" fill="#111"/>
<text transform="translate(626.3,934.0) rotate(-90)" x="0" y="8.6" font-size="24.5" fill="#222" text-anchor="middle" textLength="40.0" lengthAdjust="spacingAndGlyphs">549</text>
<line x1="222.0" y1="1006.0" x2="222.0" y2="1072.0" stroke="#111" stroke-width="1.1"/>
<line x1="543.3" y1="1006.0" x2="543.3" y2="1072.0" stroke="#111" stroke-width="1.1"/>
<line x1="296.9" y1="998.0" x2="296.9" y2="1043.0" stroke="#111" stroke-width="1.1"/>
<line x1="415.3" y1="998.0" x2="415.3" y2="1043.0" stroke="#111" stroke-width="1.1"/>
<line x1="532.9" y1="998.0" x2="532.9" y2="1043.0" stroke="#111" stroke-width="1.1"/>
<line x1="253.0" y1="1036.0" x2="296.9" y2="1036.0" stroke="#111" stroke-width="2.4"/>
<path d="M253.0,1036.0 L267.0,1031.7 L264.2,1036.0 L267.0,1040.3 Z" fill="#111"/>
<path d="M296.9,1036.0 L282.9,1040.3 L285.7,1036.0 L282.9,1031.7 Z" fill="#111"/>
<line x1="296.9" y1="1036.0" x2="415.3" y2="1036.0" stroke="#111" stroke-width="2.4"/>
<path d="M296.9,1036.0 L315.9,1031.7 L312.1,1036.0 L315.9,1040.3 Z" fill="#111"/>
<path d="M415.3,1036.0 L396.3,1040.3 L400.1,1036.0 L396.3,1031.7 Z" fill="#111"/>
<line x1="415.3" y1="1036.0" x2="532.9" y2="1036.0" stroke="#111" stroke-width="2.4"/>
<path d="M415.3,1036.0 L434.3,1031.7 L430.5,1036.0 L434.3,1040.3 Z" fill="#111"/>
<path d="M532.9,1036.0 L513.9,1040.3 L517.7,1036.0 L513.9,1031.7 Z" fill="#111"/>
<text x="275.0" y="1030.3" font-size="24.5" fill="#111" text-anchor="middle" textLength="40.0" lengthAdjust="spacingAndGlyphs">162</text>
<text x="355.2" y="1030.3" font-size="24.5" fill="#111" text-anchor="middle" textLength="40.0" lengthAdjust="spacingAndGlyphs">440</text>
<text x="474.2" y="1030.3" font-size="24.5" fill="#111" text-anchor="middle" textLength="40.0" lengthAdjust="spacingAndGlyphs">440</text>
<line x1="222.0" y1="1066.3" x2="543.3" y2="1066.3" stroke="#111" stroke-width="2.4"/>
<path d="M222.0,1066.3 L241.0,1062.0 L237.2,1066.3 L241.0,1070.6 Z" fill="#111"/>
<path d="M543.3,1066.3 L524.3,1070.6 L528.1,1066.3 L524.3,1062.0 Z" fill="#111"/>
<text x="374.0" y="1061.4" font-size="24.5" fill="#111" text-anchor="middle" textLength="53.0" lengthAdjust="spacingAndGlyphs">1196</text>
<text transform="translate(240,1012) rotate(-28)" font-size="64" font-weight="bold" fill="#e0e0e0" opacity="0.55" textLength="300" lengthAdjust="spacingAndGlyphs">ukrvent.ua</text>
<text x="846.5" y="770.6" font-size="31" font-weight="bold" fill="#111" textLength="19.3" lengthAdjust="spacingAndGlyphs">В</text>
<circle cx="858.0" cy="930.5" r="103.0" fill="#909090" stroke="#333" stroke-width="2"/>
<circle cx="858.0" cy="930.5" r="96.0" fill="none" stroke="#555" stroke-width="1"/>
<circle cx="858.0" cy="930.5" r="90.0" fill="#6b3a3a" stroke="#222" stroke-width="1.5"/>
<path d="M860.4,916.7 L885.4,849.0 L911.6,863.3 L865.0,918.4 Z" fill="#8d5454" stroke="#3a1c1c" stroke-width="1"/>
<path d="M868.1,920.8 L928.1,880.7 L940.9,907.7 L870.8,924.8 Z" fill="#8d5454" stroke="#3a1c1c" stroke-width="1"/>
<path d="M871.9,928.6 L944.0,931.4 L938.5,960.8 L871.7,933.4 Z" fill="#8d5454" stroke="#3a1c1c" stroke-width="1"/>
<path d="M870.4,937.1 L927.0,981.8 L905.3,1002.3 L867.4,940.9 Z" fill="#8d5454" stroke="#3a1c1c" stroke-width="1"/>
<path d="M864.1,943.1 L883.7,1012.6 L854.1,1016.4 L859.5,944.4 Z" fill="#8d5454" stroke="#3a1c1c" stroke-width="1"/>
<path d="M855.6,944.3 L830.6,1012.0 L804.4,997.7 L851.0,942.6 Z" fill="#8d5454" stroke="#3a1c1c" stroke-width="1"/>
<path d="M847.9,940.2 L787.9,980.3 L775.1,953.3 L845.2,936.2 Z" fill="#8d5454" stroke="#3a1c1c" stroke-width="1"/>
<path d="M844.1,932.4 L772.0,929.6 L777.5,900.2 L844.3,927.6 Z" fill="#8d5454" stroke="#3a1c1c" stroke-width="1"/>
<path d="M845.6,923.9 L789.0,879.2 L810.7,858.7 L848.6,920.1 Z" fill="#8d5454" stroke="#3a1c1c" stroke-width="1"/>
<path d="M851.9,917.9 L832.3,848.4 L861.9,844.6 L856.5,916.6 Z" fill="#8d5454" stroke="#3a1c1c" stroke-width="1"/>
<circle cx="858.0" cy="930.5" r="12.0" fill="#5a2a2a" stroke="#222" stroke-width="1"/>
<circle cx="955.0" cy="930.5" r="2.5" fill="none" stroke="#222" stroke-width="1.2"/>
<circle cx="942.0" cy="979.0" r="2.5" fill="none" stroke="#222" stroke-width="1.2"/>
<circle cx="906.5" cy="1014.5" r="2.5" fill="none" stroke="#222" stroke-width="1.2"/>
<circle cx="858.0" cy="1027.5" r="2.5" fill="none" stroke="#222" stroke-width="1.2"/>
<circle cx="809.5" cy="1014.5" r="2.5" fill="none" stroke="#222" stroke-width="1.2"/>
<circle cx="774.0" cy="979.0" r="2.5" fill="none" stroke="#222" stroke-width="1.2"/>
<circle cx="761.0" cy="930.5" r="2.5" fill="none" stroke="#222" stroke-width="1.2"/>
<circle cx="774.0" cy="882.0" r="2.5" fill="none" stroke="#222" stroke-width="1.2"/>
<circle cx="809.5" cy="846.5" r="2.5" fill="none" stroke="#222" stroke-width="1.2"/>
<circle cx="858.0" cy="833.5" r="2.5" fill="none" stroke="#222" stroke-width="1.2"/>
<circle cx="906.5" cy="846.5" r="2.5" fill="none" stroke="#222" stroke-width="1.2"/>
<circle cx="942.0" cy="882.0" r="2.5" fill="none" stroke="#222" stroke-width="1.2"/>
<line x1="858.0" y1="820.0" x2="858.0" y2="1040.0" stroke="#111" stroke-width="1.1"/>
<line x1="752.0" y1="930.5" x2="965.0" y2="930.5" stroke="#111" stroke-width="1.1"/>
<text x="719.5" y="800.0" font-size="24.5" fill="#111" textLength="54.8" lengthAdjust="spacingAndGlyphs">ø492</text>
<line x1="714.4" y1="806.2" x2="782.5" y2="806.2" stroke="#111" stroke-width="1.1"/>
<line x1="782.5" y1="806.2" x2="910.5" y2="1016.5" stroke="#111" stroke-width="2"/>
<path d="M809.0,850.0 L820.7,861.7 L815.6,861.0 L813.8,865.8 Z" fill="#111"/>
<path d="M910.5,1016.5 L898.7,1004.9 L903.8,1005.6 L905.6,1000.8 Z" fill="#111"/>
<text x="902.4" y="800.0" font-size="24.5" fill="#111" textLength="54.2" lengthAdjust="spacingAndGlyphs">ø460</text>
<line x1="895.0" y1="806.2" x2="964.3" y2="806.2" stroke="#111" stroke-width="1.1"/>
<line x1="895.0" y1="806.2" x2="830.0" y2="1020.6" stroke="#111" stroke-width="2"/>
<path d="M881.0,837.0 L880.1,853.5 L877.3,849.2 L872.5,851.1 Z" fill="#111"/>
<path d="M830.0,1020.6 L830.7,1004.1 L833.7,1008.3 L838.4,1006.4 Z" fill="#111"/>
<text x="708.3" y="1036.8" font-size="24.5" fill="#111" textLength="54.7" lengthAdjust="spacingAndGlyphs">ø418</text>
<line x1="703.0" y1="1041.0" x2="774.3" y2="1041.0" stroke="#111" stroke-width="1.1"/>
<line x1="774.3" y1="1041.0" x2="909.5" y2="860.0" stroke="#111" stroke-width="2"/>
<path d="M909.5,860.0 L903.1,875.2 L901.8,870.2 L896.7,870.4 Z" fill="#111"/>
<path d="M812.0,990.0 L818.4,974.8 L819.7,979.8 L824.8,979.6 Z" fill="#111"/>
<text x="860.7" y="1059.2" font-size="24.5" fill="#111" textLength="120.0" lengthAdjust="spacingAndGlyphs">12 отв.ø14</text>
<line x1="858.7" y1="1063.3" x2="1003.0" y2="1063.3" stroke="#111" stroke-width="1.1"/>
<line x1="1003.0" y1="1063.3" x2="958.2" y2="941.3" stroke="#111" stroke-width="1.8"/>
<path d="M958.2,941.3 L967.5,954.9 L962.6,953.3 L960.0,957.7 Z" fill="#111"/>
<text x="757" y="950" font-size="44" font-weight="bold" fill="#e8e8e8" opacity="0.55" textLength="205" lengthAdjust="spacingAndGlyphs">ukrvent.ua</text>
<text x="1216.0" y="770.8" font-size="31" font-weight="bold" fill="#111" textLength="19.4" lengthAdjust="spacingAndGlyphs">Б</text>
<rect x="1160.6" y="838.9" width="131.9" height="184.2" fill="#bdbdbd" stroke="#444" stroke-width="1.2"/>
<rect x="1176.7" y="855.6" width="99.1" height="149.7" fill="#a86a6a" stroke="#222" stroke-width="2.5"/>
<rect x="1179.0" y="858.0" width="95.0" height="80.0" fill="#a56060" stroke="none" stroke-width="1"/>
<rect x="1179.0" y="938.0" width="95.0" height="66.0" fill="#b07070" stroke="none" stroke-width="1"/>
<path d="M1184,957 L1228,957 L1245,985 L1184,985 Z" fill="#9a5050" stroke="#2a1010" stroke-width="1.5"/>
<line x1="1186.0" y1="963.0" x2="1226.0" y2="963.0" stroke="#2a1010" stroke-width="1.6"/>
<line x1="1186.0" y1="970.0" x2="1226.0" y2="970.0" stroke="#2a1010" stroke-width="1.6"/>
<line x1="1186.0" y1="977.0" x2="1226.0" y2="977.0" stroke="#2a1010" stroke-width="1.6"/>
<line x1="1179.0" y1="986.0" x2="1274.0" y2="986.0" stroke="#333" stroke-width="1.5"/>
<line x1="1226.6" y1="838.0" x2="1226.6" y2="1027.0" stroke="#111" stroke-width="1.1"/>
<line x1="1167.0" y1="931.4" x2="1286.0" y2="931.4" stroke="#111" stroke-width="1.1"/>
<line x1="1160.6" y1="855.6" x2="1292.5" y2="855.6" stroke="#333" stroke-width="1.2"/>
<line x1="1160.6" y1="1005.3" x2="1292.5" y2="1005.3" stroke="#333" stroke-width="1.2"/>
<circle cx="1169.0" cy="847.7" r="3.2" fill="none" stroke="#111" stroke-width="1.2"/>
<line x1="1164.0" y1="847.7" x2="1174.0" y2="847.7" stroke="#111" stroke-width="1"/>
<line x1="1169.0" y1="842.7" x2="1169.0" y2="852.7" stroke="#111" stroke-width="1"/>
<circle cx="1207.3" cy="847.7" r="3.2" fill="none" stroke="#111" stroke-width="1.2"/>
<line x1="1202.3" y1="847.7" x2="1212.3" y2="847.7" stroke="#111" stroke-width="1"/>
<line x1="1207.3" y1="842.7" x2="1207.3" y2="852.7" stroke="#111" stroke-width="1"/>
<circle cx="1245.4" cy="847.7" r="3.2" fill="none" stroke="#111" stroke-width="1.2"/>
<line x1="1240.4" y1="847.7" x2="1250.4" y2="847.7" stroke="#111" stroke-width="1"/>
<line x1="1245.4" y1="842.7" x2="1245.4" y2="852.7" stroke="#111" stroke-width="1"/>
<circle cx="1283.7" cy="847.7" r="3.2" fill="none" stroke="#111" stroke-width="1.2"/>
<line x1="1278.7" y1="847.7" x2="1288.7" y2="847.7" stroke="#111" stroke-width="1"/>
<line x1="1283.7" y1="842.7" x2="1283.7" y2="852.7" stroke="#111" stroke-width="1"/>
<circle cx="1169.0" cy="1014.3" r="3.2" fill="none" stroke="#111" stroke-width="1.2"/>
<line x1="1164.0" y1="1014.3" x2="1174.0" y2="1014.3" stroke="#111" stroke-width="1"/>
<line x1="1169.0" y1="1009.3" x2="1169.0" y2="1019.3" stroke="#111" stroke-width="1"/>
<circle cx="1207.3" cy="1014.3" r="3.2" fill="none" stroke="#111" stroke-width="1.2"/>
<line x1="1202.3" y1="1014.3" x2="1212.3" y2="1014.3" stroke="#111" stroke-width="1"/>
<line x1="1207.3" y1="1009.3" x2="1207.3" y2="1019.3" stroke="#111" stroke-width="1"/>
<circle cx="1245.4" cy="1014.3" r="3.2" fill="none" stroke="#111" stroke-width="1.2"/>
<line x1="1240.4" y1="1014.3" x2="1250.4" y2="1014.3" stroke="#111" stroke-width="1"/>
<line x1="1245.4" y1="1009.3" x2="1245.4" y2="1019.3" stroke="#111" stroke-width="1"/>
<circle cx="1283.7" cy="1014.3" r="3.2" fill="none" stroke="#111" stroke-width="1.2"/>
<line x1="1278.7" y1="1014.3" x2="1288.7" y2="1014.3" stroke="#111" stroke-width="1"/>
<line x1="1283.7" y1="1009.3" x2="1283.7" y2="1019.3" stroke="#111" stroke-width="1"/>
<circle cx="1169.0" cy="881.2" r="3.2" fill="none" stroke="#111" stroke-width="1.2"/>
<line x1="1164.0" y1="881.2" x2="1174.0" y2="881.2" stroke="#111" stroke-width="1"/>
<line x1="1169.0" y1="876.2" x2="1169.0" y2="886.2" stroke="#111" stroke-width="1"/>
<circle cx="1169.0" cy="914.3" r="3.2" fill="none" stroke="#111" stroke-width="1.2"/>
<line x1="1164.0" y1="914.3" x2="1174.0" y2="914.3" stroke="#111" stroke-width="1"/>
<line x1="1169.0" y1="909.3" x2="1169.0" y2="919.3" stroke="#111" stroke-width="1"/>
<circle cx="1169.0" cy="947.8" r="3.2" fill="none" stroke="#111" stroke-width="1.2"/>
<line x1="1164.0" y1="947.8" x2="1174.0" y2="947.8" stroke="#111" stroke-width="1"/>
<line x1="1169.0" y1="942.8" x2="1169.0" y2="952.8" stroke="#111" stroke-width="1"/>
<circle cx="1169.0" cy="981.3" r="3.2" fill="none" stroke="#111" stroke-width="1.2"/>
<line x1="1164.0" y1="981.3" x2="1174.0" y2="981.3" stroke="#111" stroke-width="1"/>
<line x1="1169.0" y1="976.3" x2="1169.0" y2="986.3" stroke="#111" stroke-width="1"/>
<circle cx="1283.7" cy="881.2" r="3.2" fill="none" stroke="#111" stroke-width="1.2"/>
<line x1="1278.7" y1="881.2" x2="1288.7" y2="881.2" stroke="#111" stroke-width="1"/>
<line x1="1283.7" y1="876.2" x2="1283.7" y2="886.2" stroke="#111" stroke-width="1"/>
<circle cx="1283.7" cy="914.3" r="3.2" fill="none" stroke="#111" stroke-width="1.2"/>
<line x1="1278.7" y1="914.3" x2="1288.7" y2="914.3" stroke="#111" stroke-width="1"/>
<line x1="1283.7" y1="909.3" x2="1283.7" y2="919.3" stroke="#111" stroke-width="1"/>
<circle cx="1283.7" cy="947.8" r="3.2" fill="none" stroke="#111" stroke-width="1.2"/>
<line x1="1278.7" y1="947.8" x2="1288.7" y2="947.8" stroke="#111" stroke-width="1"/>
<line x1="1283.7" y1="942.8" x2="1283.7" y2="952.8" stroke="#111" stroke-width="1"/>
<circle cx="1283.7" cy="981.3" r="3.2" fill="none" stroke="#111" stroke-width="1.2"/>
<line x1="1278.7" y1="981.3" x2="1288.7" y2="981.3" stroke="#111" stroke-width="1"/>
<line x1="1283.7" y1="976.3" x2="1283.7" y2="986.3" stroke="#111" stroke-width="1"/>
<line x1="1179.5" y1="822.0" x2="1179.5" y2="856.0" stroke="#111" stroke-width="1.1"/>
<line x1="1274.3" y1="822.0" x2="1274.3" y2="856.0" stroke="#111" stroke-width="1.1"/>
<line x1="1179.5" y1="828.0" x2="1274.3" y2="828.0" stroke="#111" stroke-width="2.4"/>
<path d="M1179.5,828.0 L1198.5,823.7 L1194.7,828.0 L1198.5,832.3 Z" fill="#111"/>
<path d="M1274.3,828.0 L1255.3,832.3 L1259.1,828.0 L1255.3,823.7 Z" fill="#111"/>
<text x="1229.7" y="822.0" font-size="24.5" fill="#111" text-anchor="middle" textLength="40.0" lengthAdjust="spacingAndGlyphs">225</text>
<line x1="1117.7" y1="825.3" x2="1117.7" y2="964.5" stroke="#111" stroke-width="1.1"/>
<line x1="1117.7" y1="825.3" x2="1190.0" y2="858.0" stroke="#111" stroke-width="2"/>
<path d="M1198.3,860.9 L1180.2,857.3 L1185.1,855.1 L1183.5,850.0 Z" fill="#111"/>
<text transform="translate(1105.0,899.6) rotate(-90)" x="0" y="8.6" font-size="24.5" fill="#222" text-anchor="middle" textLength="118.0" lengthAdjust="spacingAndGlyphs">16 отв. ø14</text>
<line x1="1141.8" y1="855.6" x2="1180.0" y2="855.6" stroke="#111" stroke-width="1.1"/>
<line x1="1141.8" y1="1005.3" x2="1180.0" y2="1005.3" stroke="#111" stroke-width="1.1"/>
<line x1="1147.0" y1="855.6" x2="1147.0" y2="1005.3" stroke="#111" stroke-width="2.4"/>
<path d="M1147.0,855.6 L1151.3,874.6 L1147.0,870.8 L1142.7,874.6 Z" fill="#111"/>
<path d="M1147.0,1005.3 L1142.7,986.3 L1147.0,990.1 L1151.3,986.3 Z" fill="#111"/>
<text transform="translate(1134.4,929.0) rotate(-90)" x="0" y="8.6" font-size="24.5" fill="#222" text-anchor="middle" textLength="40.0" lengthAdjust="spacingAndGlyphs">351</text>
<line x1="1292.0" y1="838.9" x2="1391.0" y2="838.9" stroke="#111" stroke-width="1.1"/>
<line x1="1292.0" y1="1023.1" x2="1391.0" y2="1023.1" stroke="#111" stroke-width="1.1"/>
<line x1="1284.0" y1="847.7" x2="1358.5" y2="847.7" stroke="#111" stroke-width="1.1"/>
<line x1="1284.0" y1="1014.3" x2="1358.5" y2="1014.3" stroke="#111" stroke-width="1.1"/>
<line x1="1354.3" y1="847.7" x2="1354.3" y2="1014.3" stroke="#111" stroke-width="2.4"/>
<path d="M1354.3,847.7 L1358.6,866.7 L1354.3,862.9 L1350.0,866.7 Z" fill="#111"/>
<path d="M1354.3,1014.3 L1350.0,995.3 L1354.3,999.1 L1358.6,995.3 Z" fill="#111"/>
<text transform="translate(1339.6,931.0) rotate(-90)" x="0" y="8.6" font-size="24.5" fill="#222" text-anchor="middle" textLength="110.0" lengthAdjust="spacingAndGlyphs">79x5=395</text>
<line x1="1382.5" y1="838.9" x2="1382.5" y2="1023.1" stroke="#111" stroke-width="2.4"/>
<path d="M1382.5,838.9 L1386.8,857.9 L1382.5,854.1 L1378.2,857.9 Z" fill="#111"/>
<path d="M1382.5,1023.1 L1378.2,1004.1 L1382.5,1007.9 L1386.8,1004.1 Z" fill="#111"/>
<text transform="translate(1372.0,939.4) rotate(-90)" x="0" y="8.6" font-size="24.5" fill="#222" text-anchor="middle" textLength="40.0" lengthAdjust="spacingAndGlyphs">437</text>
<line x1="1284.0" y1="981.3" x2="1325.0" y2="981.3" stroke="#111" stroke-width="1.1"/>
<line x1="1319.3" y1="957.0" x2="1319.3" y2="981.3" stroke="#111" stroke-width="1.8"/>
<path d="M1319.3,981.3 L1315.3,966.3 L1319.3,969.3 L1323.3,966.3 Z" fill="#111"/>
<line x1="1319.3" y1="1014.3" x2="1319.3" y2="1037.8" stroke="#111" stroke-width="1.8"/>
<path d="M1319.3,1014.3 L1323.3,1029.3 L1319.3,1026.3 L1315.3,1029.3 Z" fill="#111"/>
<line x1="1319.3" y1="981.3" x2="1319.3" y2="1014.3" stroke="#111" stroke-width="1.1"/>
<text transform="translate(1306.0,996.0) rotate(-90)" x="0" y="8.6" font-size="24.5" fill="#222" text-anchor="middle" textLength="26.0" lengthAdjust="spacingAndGlyphs">79</text>
<line x1="1245.4" y1="1014.0" x2="1245.4" y2="1056.0" stroke="#111" stroke-width="1.1"/>
<line x1="1283.7" y1="1014.0" x2="1283.7" y2="1090.0" stroke="#111" stroke-width="1.1"/>
<line x1="1169.0" y1="1014.0" x2="1169.0" y2="1090.0" stroke="#111" stroke-width="1.1"/>
<line x1="1220.3" y1="1050.3" x2="1308.2" y2="1050.3" stroke="#111" stroke-width="1.8"/>
<path d="M1245.4,1050.3 L1230.4,1054.3 L1233.4,1050.3 L1230.4,1046.3 Z" fill="#111"/>
<path d="M1283.7,1050.3 L1298.7,1046.3 L1295.7,1050.3 L1298.7,1054.3 Z" fill="#111"/>
<text x="1263.7" y="1046.2" font-size="24.5" fill="#111" text-anchor="middle" textLength="22.0" lengthAdjust="spacingAndGlyphs">91</text>
<line x1="1169.0" y1="1082.8" x2="1283.7" y2="1082.8" stroke="#111" stroke-width="2.4"/>
<path d="M1169.0,1082.8 L1188.0,1078.5 L1184.2,1082.8 L1188.0,1087.1 Z" fill="#111"/>
<path d="M1283.7,1082.8 L1264.7,1087.1 L1268.5,1082.8 L1264.7,1078.5 Z" fill="#111"/>
<text x="1227.6" y="1077.6" font-size="24.5" fill="#111" text-anchor="middle" textLength="108.8" lengthAdjust="spacingAndGlyphs">91x3=273</text>
<line x1="1160.6" y1="1023.0" x2="1160.6" y2="1120.0" stroke="#111" stroke-width="1.1"/>
<line x1="1292.5" y1="1023.0" x2="1292.5" y2="1120.0" stroke="#111" stroke-width="1.1"/>
<line x1="1160.6" y1="1114.2" x2="1292.5" y2="1114.2" stroke="#111" stroke-width="2.4"/>
<path d="M1160.6,1114.2 L1179.6,1109.9 L1175.8,1114.2 L1179.6,1118.5 Z" fill="#111"/>
<path d="M1292.5,1114.2 L1273.5,1118.5 L1277.3,1114.2 L1273.5,1109.9 Z" fill="#111"/>
<text x="1228.7" y="1110.0" font-size="24.5" fill="#111" text-anchor="middle" textLength="40.0" lengthAdjust="spacingAndGlyphs">313</text>
<text x="1122" y="950" font-size="44" font-weight="bold" fill="#e8e8e8" opacity="0.5" textLength="205" lengthAdjust="spacingAndGlyphs">ukrvent.ua</text>
<path d="M292.6,1405.5V2067 M301.9,1405.5V2067 M310.7,1405.5V2067 M319.0,1405.5V2067 M334.5,1405.5V2067 M348.6,1405.5V2067 M361.6,1405.5V2067 M373.6,1405.5V2067 M384.8,1405.5V2067 M395.3,1405.5V2067 M405.1,1405.5V2067 M414.4,1405.5V2067 M423.2,1405.5V2067 M431.5,1405.5V2067 M447.0,1405.5V2067 M461.1,1405.5V2067 M474.1,1405.5V2067 M486.1,1405.5V2067 M497.3,1405.5V2067 M507.8,1405.5V2067 M517.6,1405.5V2067 M526.9,1405.5V2067 M535.7,1405.5V2067 M544.0,1405.5V2067 M551.9,1405.5V2067 M559.5,1405.5V2067 M566.7,1405.5V2067 M573.6,1405.5V2067 M580.2,1405.5V2067 M586.6,1405.5V2067 M592.7,1405.5V2067 M598.6,1405.5V2067 M604.3,1405.5V2067 M609.8,1405.5V2067 M615.1,1405.5V2067 M620.3,1405.5V2067 M625.3,1405.5V2067 M630.1,1405.5V2067 M634.8,1405.5V2067 M646.0,1405.5V2067 M656.5,1405.5V2067 M666.3,1405.5V2067 M675.6,1405.5V2067 M684.4,1405.5V2067 M692.7,1405.5V2067 M708.2,1405.5V2067 M722.3,1405.5V2067 M735.3,1405.5V2067 M747.3,1405.5V2067 M758.5,1405.5V2067 M769.0,1405.5V2067 M778.8,1405.5V2067 M788.1,1405.5V2067 M796.9,1405.5V2067 M805.2,1405.5V2067 M286.5,2059.6H805.3 M286.5,2050.8H805.3 M286.5,2042.5H805.3 M286.5,2034.6H805.3 M286.5,2027.0H805.3 M286.5,2019.8H805.3 M286.5,2012.9H805.3 M286.5,2006.3H805.3 M286.5,1999.9H805.3 M286.5,1993.8H805.3 M286.5,1987.9H805.3 M286.5,1982.2H805.3 M286.5,1976.7H805.3 M286.5,1963.8H805.3 M286.5,1951.7H805.3 M286.5,1940.6H805.3 M286.5,1930.1H805.3 M286.5,1920.3H805.3 M286.5,1911.0H805.3 M286.5,1902.2H805.3 M286.5,1893.9H805.3 M286.5,1878.4H805.3 M286.5,1864.3H805.3 M286.5,1851.4H805.3 M286.5,1839.3H805.3 M286.5,1828.1H805.3 M286.5,1817.7H805.3 M286.5,1807.9H805.3 M286.5,1798.6H805.3 M286.5,1789.8H805.3 M286.5,1781.5H805.3 M286.5,1766.0H805.3 M286.5,1751.9H805.3 M286.5,1738.9H805.3 M286.5,1726.9H805.3 M286.5,1715.7H805.3 M286.5,1705.3H805.3 M286.5,1695.4H805.3 M286.5,1686.2H805.3 M286.5,1677.4H805.3 M286.5,1669.1H805.3 M286.5,1661.2H805.3 M286.5,1653.6H805.3 M286.5,1646.4H805.3 M286.5,1639.5H805.3 M286.5,1632.9H805.3 M286.5,1626.5H805.3 M286.5,1620.4H805.3 M286.5,1614.5H805.3 M286.5,1608.8H805.3 M286.5,1603.3H805.3 M286.5,1590.4H805.3 M286.5,1578.3H805.3 M286.5,1567.2H805.3 M286.5,1556.7H805.3 M286.5,1546.9H805.3 M286.5,1537.6H805.3 M286.5,1528.8H805.3 M286.5,1520.5H805.3 M286.5,1505.0H805.3 M286.5,1490.9H805.3 M286.5,1478.0H805.3 M286.5,1465.9H805.3 M286.5,1454.7H805.3 M286.5,1444.3H805.3 M286.5,1434.5H805.3 M286.5,1425.2H805.3 M286.5,1416.4H805.3 M286.5,1408.1H805.3" fill="none" stroke="#d0d0d0" stroke-width="1.6"/>
<line x1="286.5" y1="1405.5" x2="805.3" y2="1405.5" stroke="#bdbdbd" stroke-width="1.6"/>
<line x1="805.3" y1="1405.5" x2="805.3" y2="2067.0" stroke="#bdbdbd" stroke-width="1.6"/>
<ellipse cx="393.8" cy="1482.4" rx="91" ry="59" fill="#fff" stroke="#38468c" stroke-width="5"/>
<path id="arcTop" d="M315.8,1488.4 A78,47 0 0 1 471.8,1488.4" fill="none"/>
<path id="arcBot1" d="M334,1502 A64,33 0 0 0 454,1496" fill="none"/>
<path id="arcBot2" d="M327,1518 A85,59 0 0 0 465,1511" fill="none"/>
<text font-size="15.5" font-weight="bold" fill="#38468c"><textPath href="#arcTop" startOffset="50%" text-anchor="middle" textLength="172" lengthAdjust="spacingAndGlyphs">Вентилятор ВД167-37-6</textPath></text>
<text font-size="13" font-weight="bold" fill="#38468c"><textPath href="#arcBot1" startOffset="50%" text-anchor="middle" textLength="116" lengthAdjust="spacingAndGlyphs">лабораторія заводу</textPath></text>
<text font-size="17" font-weight="bold" fill="#38468c"><textPath href="#arcBot2" startOffset="50%" text-anchor="middle" textLength="134" lengthAdjust="spacingAndGlyphs">УКРВЕНТСИСТЕМИ</textPath></text>
<path d="M326,1467 L326,1497" fill="none" stroke="#38468c" stroke-width="5"/>
<path d="M329,1471 L341,1471 L341,1492 L329,1492" fill="none" stroke="#38468c" stroke-width="3.2"/>
<path d="M341,1473 L361,1469 L361,1495 L341,1490" fill="none" stroke="#38468c" stroke-width="3.2"/>
<path d="M361,1469 L377,1453 L414,1453 L430,1467 L430,1497 L414,1509 L377,1509 L361,1495 Z" fill="none" stroke="#38468c" stroke-width="3.2"/>
<line x1="377.0" y1="1453.0" x2="377.0" y2="1509.0" stroke="#38468c" stroke-width="3.2"/>
<line x1="414.0" y1="1453.0" x2="414.0" y2="1509.0" stroke="#38468c" stroke-width="3.2"/>
<line x1="390.0" y1="1453.0" x2="390.0" y2="1509.0" stroke="#38468c" stroke-width="3.2"/>
<line x1="401.0" y1="1453.0" x2="401.0" y2="1509.0" stroke="#38468c" stroke-width="3.2"/>
<circle cx="395.5" cy="1465.0" r="2.5" fill="none" stroke="#38468c" stroke-width="1.8"/>
<circle cx="395.5" cy="1497.0" r="2.5" fill="none" stroke="#38468c" stroke-width="1.8"/>
<rect x="430.0" y="1466.0" width="27.0" height="31.0" fill="none" stroke="#38468c" stroke-width="3.2"/>
<line x1="436.0" y1="1466.0" x2="436.0" y2="1497.0" stroke="#38468c" stroke-width="2"/>
<path d="M451,1474 A7,7 0 1 0 451,1489" fill="none" stroke="#38468c" stroke-width="3"/>
<line x1="286.5" y1="2011.8" x2="526.8" y2="1531.2" stroke="#3a8447" stroke-width="2.0"/>
<text transform="translate(523.8,1530.8) rotate(-63.4)" font-size="17.5" font-weight="bold" fill="#3f8f3f" text-anchor="middle">0,4</text>
<line x1="325.8" y1="2067.0" x2="582.8" y2="1553.1" stroke="#3a8447" stroke-width="2.0"/>
<text transform="translate(581.2,1552.3) rotate(-63.4)" font-size="17.5" font-weight="bold" fill="#3f8f3f" text-anchor="middle">0,502</text>
<line x1="362.7" y1="2067.0" x2="612.9" y2="1566.6" stroke="#3a8447" stroke-width="2.0"/>
<text transform="translate(611.7,1566.0) rotate(-63.4)" font-size="17.5" font-weight="bold" fill="#3f8f3f" text-anchor="middle">0,549</text>
<line x1="392.0" y1="2067.0" x2="635.9" y2="1579.3" stroke="#3a8447" stroke-width="2.0"/>
<text transform="translate(634.3,1578.5) rotate(-63.4)" font-size="17.5" font-weight="bold" fill="#3f8f3f" text-anchor="middle">0,583</text>
<line x1="430.2" y1="2067.0" x2="665.6" y2="1596.3" stroke="#3a8447" stroke-width="2.0"/>
<text transform="translate(664.0,1595.5) rotate(-63.4)" font-size="17.5" font-weight="bold" fill="#3f8f3f" text-anchor="middle">0,626</text>
<line x1="463.6" y1="2067.0" x2="689.7" y2="1614.7" stroke="#3a8447" stroke-width="2.0"/>
<text transform="translate(688.1,1613.9) rotate(-63.4)" font-size="17.5" font-weight="bold" fill="#3f8f3f" text-anchor="middle">0,661</text>
<line x1="497.8" y1="2067.0" x2="712.7" y2="1637.2" stroke="#3d9a48" stroke-width="5.5"/>
<text transform="translate(713.5,1630.9) rotate(-63.4)" font-size="17.5" font-weight="bold" fill="#3f8f3f" text-anchor="middle">η=0,669</text>
<line x1="528.3" y1="2067.0" x2="731.3" y2="1661.0" stroke="#3a8447" stroke-width="2.0"/>
<text transform="translate(730.0,1656.3) rotate(-63.4)" font-size="17.5" font-weight="bold" fill="#3f8f3f" text-anchor="middle">0,647</text>
<line x1="571.7" y1="2067.0" x2="756.3" y2="1697.8" stroke="#3a8447" stroke-width="2.0"/>
<text transform="translate(754.0,1696.1) rotate(-63.4)" font-size="17.5" font-weight="bold" fill="#3f8f3f" text-anchor="middle">0,59</text>
<line x1="597.1" y1="2067.0" x2="768.1" y2="1725.0" stroke="#3a8447" stroke-width="2.0"/>
<text transform="translate(765.2,1723.1) rotate(-63.4)" font-size="17.5" font-weight="bold" fill="#3f8f3f" text-anchor="middle">0,55</text>
<line x1="614.6" y1="2067.0" x2="769.8" y2="1756.6" stroke="#3a8447" stroke-width="2.0"/>
<text transform="translate(778.7,1746.5) rotate(-63.4)" font-size="17.5" font-weight="bold" fill="#3f8f3f" text-anchor="middle">0,5</text>
<line x1="632.5" y1="2067.0" x2="768.1" y2="1795.7" stroke="#3a8447" stroke-width="2.0"/>
<text transform="translate(784.5,1775.3) rotate(-63.4)" font-size="17.5" font-weight="bold" fill="#3f8f3f" text-anchor="middle">0,456</text>
<path d="M504.1,1577.5 C514.0,1581.2 545.3,1592.0 563.8,1599.8 C582.3,1607.6 599.7,1615.7 615.3,1624.3 C630.9,1632.9 644.9,1642.0 657.4,1651.2 C669.9,1660.4 680.4,1669.5 690.1,1679.3 C699.9,1689.0 708.5,1699.2 715.9,1709.7 C723.3,1720.2 729.1,1731.6 734.6,1742.5 C740.1,1753.4 744.5,1763.8 748.6,1775.3 C752.7,1786.8 757.4,1805.5 759.1,1811.5" fill="none" stroke="#38468c" stroke-width="5"/>
<path d="M487.7,1611.5 C496.5,1615.0 521.9,1624.5 540.4,1632.5 C558.9,1640.5 580.6,1649.2 598.9,1659.4 C617.2,1669.6 636.8,1683.1 650.4,1693.4 C664.0,1703.7 671.8,1711.7 680.8,1721.4 C689.8,1731.2 697.2,1741.4 704.2,1751.9 C711.2,1762.4 717.8,1774.1 722.9,1784.6 C728.0,1795.1 731.3,1804.9 734.6,1815.0 C737.9,1825.1 741.4,1840.3 742.8,1845.4" fill="none" stroke="#38468c" stroke-width="5"/>
<path d="M466.7,1652.4 C475.1,1655.3 498.9,1662.4 517.0,1670.0 C535.1,1677.6 557.6,1688.2 575.5,1698.0 C593.4,1707.8 611.0,1718.8 624.6,1728.5 C638.2,1738.2 648.0,1747.2 657.4,1756.5 C666.8,1765.8 673.8,1774.4 680.8,1784.6 C687.8,1794.8 694.0,1806.1 699.5,1817.4 C705.0,1828.7 709.6,1840.8 713.5,1852.5 C717.4,1864.2 721.3,1881.8 722.9,1887.6" fill="none" stroke="#38468c" stroke-width="5"/>
<path d="M450.3,1686.3 C459.5,1689.8 487.2,1698.8 505.3,1707.4 C523.4,1716.0 542.7,1727.7 559.1,1737.8 C575.5,1747.9 590.4,1757.7 603.6,1768.2 C616.9,1778.7 628.5,1790.1 638.6,1801.0 C648.7,1811.9 656.6,1822.4 664.4,1833.7 C672.2,1845.0 679.5,1857.9 685.4,1868.8 C691.2,1879.7 696.0,1890.5 699.5,1899.3 C703.0,1908.1 705.3,1917.8 706.5,1921.5" fill="none" stroke="#38468c" stroke-width="5"/>
<path d="M432.8,1721.4 C442.1,1725.3 470.2,1735.8 488.9,1744.8 C507.6,1753.8 528.7,1765.1 545.1,1775.3 C561.5,1785.5 574.3,1794.8 587.2,1805.7 C600.1,1816.6 612.2,1829.5 622.3,1840.8 C632.4,1852.1 640.2,1862.6 648.0,1873.5 C655.8,1884.4 663.6,1896.1 669.1,1906.3 C674.6,1916.5 677.4,1926.4 680.8,1934.4 C684.2,1942.4 688.0,1951.2 689.5,1954.5" fill="none" stroke="#38468c" stroke-width="5"/>
<path d="M417.5,1751.9 C426.3,1755.6 452.8,1765.9 470.2,1774.1 C487.6,1782.3 506.1,1791.8 521.7,1801.0 C537.3,1810.2 550.1,1819.0 563.8,1829.1 C577.4,1839.2 592.7,1851.3 603.6,1861.8 C614.5,1872.3 621.5,1881.3 629.3,1892.2 C637.1,1903.1 644.5,1916.4 650.4,1927.3 C656.2,1938.2 660.4,1948.0 664.4,1957.8 C668.4,1967.6 672.8,1981.3 674.5,1986.0" fill="none" stroke="#38468c" stroke-width="5"/>
<text x="498.0" y="1577.5" font-size="18.5" font-weight="bold" fill="#38468c" text-anchor="end">15</text>
<text x="478.4" y="1611.5" font-size="18.5" font-weight="bold" fill="#38468c" text-anchor="end">11</text>
<text x="464.3" y="1652.0" font-size="18.5" font-weight="bold" fill="#38468c" text-anchor="end">7,5</text>
<text x="445.6" y="1686.0" font-size="18.5" font-weight="bold" fill="#38468c" text-anchor="end">5,5</text>
<text x="418.7" y="1721.4" font-size="18.5" font-weight="bold" fill="#38468c" text-anchor="end">4</text>
<text x="414.0" y="1752.0" font-size="18.5" font-weight="bold" fill="#38468c" text-anchor="end">N=3</text>
<path d="M394.6,1799.3 C407.2,1797.8 445.9,1793.7 470.2,1790.5 C494.5,1787.3 517.0,1783.1 540.4,1780.0 C563.8,1776.9 591.1,1773.5 610.6,1771.7 C630.1,1769.9 643.8,1769.4 657.4,1769.4 C671.0,1769.4 682.0,1769.9 692.5,1771.7 C703.0,1773.5 712.7,1776.7 720.5,1780.0 C728.3,1783.3 734.2,1787.3 739.3,1791.6 C744.4,1795.9 748.1,1801.2 751.0,1805.7 C753.9,1810.2 755.8,1816.4 756.8,1818.5" fill="none" stroke="#df3b33" stroke-width="9.5"/>
<path d="M325.0,1938.5 C337.5,1937.2 375.8,1934.1 400.0,1930.9 C424.2,1927.7 446.8,1922.5 470.2,1919.2 C493.6,1915.9 520.9,1912.6 540.4,1911.0 C559.9,1909.4 571.6,1909.0 587.2,1909.8 C602.8,1910.6 622.3,1913.1 634.0,1915.6 C645.7,1918.1 650.8,1921.5 657.4,1925.0 C664.0,1928.5 669.4,1932.8 673.7,1936.7 C678.0,1940.6 681.0,1944.8 683.1,1948.4 C685.2,1952.0 686.0,1956.8 686.6,1958.5" fill="none" stroke="#df3b33" stroke-width="9.5"/>
<text transform="translate(425,1789) rotate(-5)" font-size="19" font-weight="bold" fill="#df3b33" textLength="40" lengthAdjust="spacingAndGlyphs">1460</text>
<text transform="translate(347.5,1928) rotate(-5)" font-size="19" font-weight="bold" fill="#df3b33" textLength="54" lengthAdjust="spacingAndGlyphs">n=950</text>
<text x="760.0" y="1832.0" font-size="19" font-weight="bold" fill="#df3b33" textLength="36.6" lengthAdjust="spacingAndGlyphs">45,9</text>
<text x="692.0" y="1971.0" font-size="19" font-weight="bold" fill="#df3b33" textLength="62.0" lengthAdjust="spacingAndGlyphs">U=29,8</text>
<text transform="translate(597,1754) rotate(-54.7)" font-size="134" font-weight="bold" fill="#c8c8c8" opacity="0.55" text-anchor="middle" textLength="668" lengthAdjust="spacingAndGlyphs">ukrvent.ua</text>
<line x1="150.8" y1="2069.0" x2="150.8" y2="1398.0" stroke="#232323" stroke-width="4.6"/>
<path d="M150.8,1372.8 L159.4,1403 L142.20000000000002,1403 Z" fill="#232323" stroke="none" stroke-width="1"/>
<line x1="216.7" y1="2069.0" x2="216.7" y2="1398.0" stroke="#232323" stroke-width="4.6"/>
<path d="M216.7,1372.8 L225.29999999999998,1403 L208.1,1403 Z" fill="#232323" stroke="none" stroke-width="1"/>
<line x1="283.7" y1="2069.0" x2="283.7" y2="1398.0" stroke="#232323" stroke-width="4.6"/>
<path d="M283.7,1372.8 L292.3,1403 L275.09999999999997,1403 Z" fill="#232323" stroke="none" stroke-width="1"/>
<line x1="148.5" y1="2067.0" x2="812.0" y2="2067.0" stroke="#232323" stroke-width="4.6"/>
<path d="M838.9,2067 L807.7,2075.8 L807.7,2058.2 Z" fill="#232323" stroke="none" stroke-width="1"/>
<line x1="144.3" y1="1442.5" x2="150.8" y2="1442.5" stroke="#232323" stroke-width="2.6"/>
<text x="118.2" y="1449.3" font-size="19.5" font-weight="bold" fill="#3c4a8a" text-anchor="middle">10000</text>
<line x1="144.3" y1="1459.6" x2="150.8" y2="1459.6" stroke="#232323" stroke-width="2.6"/>
<text x="118.2" y="1466.4" font-size="19.5" font-weight="bold" fill="#3c4a8a" text-anchor="middle">9000</text>
<line x1="144.3" y1="1478.7" x2="150.8" y2="1478.7" stroke="#232323" stroke-width="2.6"/>
<text x="118.2" y="1485.5" font-size="19.5" font-weight="bold" fill="#3c4a8a" text-anchor="middle">8000</text>
<line x1="144.3" y1="1500.4" x2="150.8" y2="1500.4" stroke="#232323" stroke-width="2.6"/>
<text x="118.2" y="1507.2" font-size="19.5" font-weight="bold" fill="#3c4a8a" text-anchor="middle">7000</text>
<line x1="144.3" y1="1525.4" x2="150.8" y2="1525.4" stroke="#232323" stroke-width="2.6"/>
<text x="118.2" y="1532.2" font-size="19.5" font-weight="bold" fill="#3c4a8a" text-anchor="middle">6000</text>
<line x1="144.3" y1="1554.9" x2="150.8" y2="1554.9" stroke="#232323" stroke-width="2.6"/>
<text x="118.2" y="1561.7" font-size="19.5" font-weight="bold" fill="#3c4a8a" text-anchor="middle">5000</text>
<line x1="144.3" y1="1591.1" x2="150.8" y2="1591.1" stroke="#232323" stroke-width="2.6"/>
<text x="118.2" y="1597.9" font-size="19.5" font-weight="bold" fill="#3c4a8a" text-anchor="middle">4000</text>
<line x1="144.3" y1="1612.8" x2="150.8" y2="1612.8" stroke="#232323" stroke-width="2.6"/>
<text x="118.2" y="1619.6" font-size="19.5" font-weight="bold" fill="#3c4a8a" text-anchor="middle">3500</text>
<line x1="144.3" y1="1637.8" x2="150.8" y2="1637.8" stroke="#232323" stroke-width="2.6"/>
<text x="118.2" y="1644.6" font-size="19.5" font-weight="bold" fill="#3c4a8a" text-anchor="middle">3000</text>
<line x1="144.3" y1="1667.4" x2="150.8" y2="1667.4" stroke="#232323" stroke-width="2.6"/>
<text x="118.2" y="1674.2" font-size="19.5" font-weight="bold" fill="#3c4a8a" text-anchor="middle">2500</text>
<line x1="144.3" y1="1703.6" x2="150.8" y2="1703.6" stroke="#232323" stroke-width="2.6"/>
<text x="118.2" y="1710.4" font-size="19.5" font-weight="bold" fill="#3c4a8a" text-anchor="middle">2000</text>
<line x1="144.3" y1="1720.7" x2="150.8" y2="1720.7" stroke="#232323" stroke-width="2.6"/>
<text x="118.2" y="1727.5" font-size="19.5" font-weight="bold" fill="#3c4a8a" text-anchor="middle">1800</text>
<line x1="144.3" y1="1739.8" x2="150.8" y2="1739.8" stroke="#232323" stroke-width="2.6"/>
<text x="118.2" y="1746.6" font-size="19.5" font-weight="bold" fill="#3c4a8a" text-anchor="middle">1600</text>
<line x1="144.3" y1="1761.4" x2="150.8" y2="1761.4" stroke="#232323" stroke-width="2.6"/>
<text x="118.2" y="1768.2" font-size="19.5" font-weight="bold" fill="#3c4a8a" text-anchor="middle">1400</text>
<line x1="144.3" y1="1786.4" x2="150.8" y2="1786.4" stroke="#232323" stroke-width="2.6"/>
<text x="118.2" y="1793.2" font-size="19.5" font-weight="bold" fill="#3c4a8a" text-anchor="middle">1200</text>
<line x1="144.3" y1="1816.0" x2="150.8" y2="1816.0" stroke="#232323" stroke-width="2.6"/>
<text x="118.2" y="1822.8" font-size="19.5" font-weight="bold" fill="#3c4a8a" text-anchor="middle">1000</text>
<line x1="144.3" y1="1833.1" x2="150.8" y2="1833.1" stroke="#232323" stroke-width="2.6"/>
<text x="118.2" y="1839.9" font-size="19.5" font-weight="bold" fill="#3c4a8a" text-anchor="middle">900</text>
<line x1="144.3" y1="1852.2" x2="150.8" y2="1852.2" stroke="#232323" stroke-width="2.6"/>
<text x="118.2" y="1859.0" font-size="19.5" font-weight="bold" fill="#3c4a8a" text-anchor="middle">800</text>
<line x1="144.3" y1="1873.9" x2="150.8" y2="1873.9" stroke="#232323" stroke-width="2.6"/>
<text x="118.2" y="1880.7" font-size="19.5" font-weight="bold" fill="#3c4a8a" text-anchor="middle">700</text>
<line x1="144.3" y1="1898.9" x2="150.8" y2="1898.9" stroke="#232323" stroke-width="2.6"/>
<text x="118.2" y="1905.7" font-size="19.5" font-weight="bold" fill="#3c4a8a" text-anchor="middle">600</text>
<line x1="144.3" y1="1928.4" x2="150.8" y2="1928.4" stroke="#232323" stroke-width="2.6"/>
<text x="118.2" y="1935.2" font-size="19.5" font-weight="bold" fill="#3c4a8a" text-anchor="middle">500</text>
<line x1="144.3" y1="1964.6" x2="150.8" y2="1964.6" stroke="#232323" stroke-width="2.6"/>
<text x="118.2" y="1971.4" font-size="19.5" font-weight="bold" fill="#3c4a8a" text-anchor="middle">400</text>
<line x1="144.3" y1="1991.0" x2="150.8" y2="1991.0" stroke="#232323" stroke-width="2.6"/>
<text x="118.2" y="1997.8" font-size="19.5" font-weight="bold" fill="#3c4a8a" text-anchor="middle">340</text>
<line x1="144.3" y1="2011.3" x2="150.8" y2="2011.3" stroke="#232323" stroke-width="2.6"/>
<text x="118.2" y="2018.1" font-size="19.5" font-weight="bold" fill="#3c4a8a" text-anchor="middle">300</text>
<line x1="144.3" y1="2047.5" x2="150.8" y2="2047.5" stroke="#232323" stroke-width="2.6"/>
<text x="118.2" y="2054.3" font-size="19.5" font-weight="bold" fill="#3c4a8a" text-anchor="middle">240</text>
<line x1="210.2" y1="1425.8" x2="216.7" y2="1425.8" stroke="#232323" stroke-width="2.6"/>
<text x="186.0" y="1432.6" font-size="19.5" font-weight="bold" fill="#3c4a8a" text-anchor="middle">14000</text>
<line x1="210.2" y1="1450.9" x2="216.7" y2="1450.9" stroke="#232323" stroke-width="2.6"/>
<text x="186.0" y="1457.7" font-size="19.5" font-weight="bold" fill="#3c4a8a" text-anchor="middle">12000</text>
<line x1="210.2" y1="1480.5" x2="216.7" y2="1480.5" stroke="#232323" stroke-width="2.6"/>
<text x="186.0" y="1487.3" font-size="19.5" font-weight="bold" fill="#3c4a8a" text-anchor="middle">10000</text>
<line x1="210.2" y1="1497.6" x2="216.7" y2="1497.6" stroke="#232323" stroke-width="2.6"/>
<text x="186.0" y="1504.4" font-size="19.5" font-weight="bold" fill="#3c4a8a" text-anchor="middle">9000</text>
<line x1="210.2" y1="1516.7" x2="216.7" y2="1516.7" stroke="#232323" stroke-width="2.6"/>
<text x="186.0" y="1523.5" font-size="19.5" font-weight="bold" fill="#3c4a8a" text-anchor="middle">8000</text>
<line x1="210.2" y1="1538.4" x2="216.7" y2="1538.4" stroke="#232323" stroke-width="2.6"/>
<text x="186.0" y="1545.2" font-size="19.5" font-weight="bold" fill="#3c4a8a" text-anchor="middle">7000</text>
<line x1="210.2" y1="1563.5" x2="216.7" y2="1563.5" stroke="#232323" stroke-width="2.6"/>
<text x="186.0" y="1570.3" font-size="19.5" font-weight="bold" fill="#3c4a8a" text-anchor="middle">6000</text>
<line x1="210.2" y1="1593.1" x2="216.7" y2="1593.1" stroke="#232323" stroke-width="2.6"/>
<text x="186.0" y="1599.9" font-size="19.5" font-weight="bold" fill="#3c4a8a" text-anchor="middle">5000</text>
<line x1="210.2" y1="1629.3" x2="216.7" y2="1629.3" stroke="#232323" stroke-width="2.6"/>
<text x="186.0" y="1636.1" font-size="19.5" font-weight="bold" fill="#3c4a8a" text-anchor="middle">4000</text>
<line x1="210.2" y1="1651.0" x2="216.7" y2="1651.0" stroke="#232323" stroke-width="2.6"/>
<text x="186.0" y="1657.8" font-size="19.5" font-weight="bold" fill="#3c4a8a" text-anchor="middle">3500</text>
<line x1="210.2" y1="1676.1" x2="216.7" y2="1676.1" stroke="#232323" stroke-width="2.6"/>
<text x="186.0" y="1682.9" font-size="19.5" font-weight="bold" fill="#3c4a8a" text-anchor="middle">3000</text>
<line x1="210.2" y1="1705.7" x2="216.7" y2="1705.7" stroke="#232323" stroke-width="2.6"/>
<text x="186.0" y="1712.5" font-size="19.5" font-weight="bold" fill="#3c4a8a" text-anchor="middle">2500</text>
<line x1="210.2" y1="1741.9" x2="216.7" y2="1741.9" stroke="#232323" stroke-width="2.6"/>
<text x="186.0" y="1748.7" font-size="19.5" font-weight="bold" fill="#3c4a8a" text-anchor="middle">2000</text>
<line x1="210.2" y1="1759.0" x2="216.7" y2="1759.0" stroke="#232323" stroke-width="2.6"/>
<text x="186.0" y="1765.8" font-size="19.5" font-weight="bold" fill="#3c4a8a" text-anchor="middle">1800</text>
<line x1="210.2" y1="1778.2" x2="216.7" y2="1778.2" stroke="#232323" stroke-width="2.6"/>
<text x="186.0" y="1785.0" font-size="19.5" font-weight="bold" fill="#3c4a8a" text-anchor="middle">1600</text>
<line x1="210.2" y1="1799.8" x2="216.7" y2="1799.8" stroke="#232323" stroke-width="2.6"/>
<text x="186.0" y="1806.6" font-size="19.5" font-weight="bold" fill="#3c4a8a" text-anchor="middle">1400</text>
<line x1="210.2" y1="1824.9" x2="216.7" y2="1824.9" stroke="#232323" stroke-width="2.6"/>
<text x="186.0" y="1831.7" font-size="19.5" font-weight="bold" fill="#3c4a8a" text-anchor="middle">1200</text>
<line x1="210.2" y1="1854.5" x2="216.7" y2="1854.5" stroke="#232323" stroke-width="2.6"/>
<text x="186.0" y="1861.3" font-size="19.5" font-weight="bold" fill="#3c4a8a" text-anchor="middle">1000</text>
<line x1="210.2" y1="1871.6" x2="216.7" y2="1871.6" stroke="#232323" stroke-width="2.6"/>
<text x="186.0" y="1878.4" font-size="19.5" font-weight="bold" fill="#3c4a8a" text-anchor="middle">900</text>
<line x1="210.2" y1="1890.7" x2="216.7" y2="1890.7" stroke="#232323" stroke-width="2.6"/>
<text x="186.0" y="1897.5" font-size="19.5" font-weight="bold" fill="#3c4a8a" text-anchor="middle">800</text>
<line x1="210.2" y1="1912.4" x2="216.7" y2="1912.4" stroke="#232323" stroke-width="2.6"/>
<text x="186.0" y="1919.2" font-size="19.5" font-weight="bold" fill="#3c4a8a" text-anchor="middle">700</text>
<line x1="210.2" y1="1937.5" x2="216.7" y2="1937.5" stroke="#232323" stroke-width="2.6"/>
<text x="186.0" y="1944.3" font-size="19.5" font-weight="bold" fill="#3c4a8a" text-anchor="middle">600</text>
<line x1="210.2" y1="1967.1" x2="216.7" y2="1967.1" stroke="#232323" stroke-width="2.6"/>
<text x="186.0" y="1973.9" font-size="19.5" font-weight="bold" fill="#3c4a8a" text-anchor="middle">500</text>
<line x1="210.2" y1="2003.3" x2="216.7" y2="2003.3" stroke="#232323" stroke-width="2.6"/>
<text x="186.0" y="2010.1" font-size="19.5" font-weight="bold" fill="#3c4a8a" text-anchor="middle">400</text>
<line x1="210.2" y1="2029.7" x2="216.7" y2="2029.7" stroke="#232323" stroke-width="2.6"/>
<text x="186.0" y="2036.5" font-size="19.5" font-weight="bold" fill="#3c4a8a" text-anchor="middle">340</text>
<line x1="210.2" y1="2050.1" x2="216.7" y2="2050.1" stroke="#232323" stroke-width="2.6"/>
<text x="186.0" y="2056.9" font-size="19.5" font-weight="bold" fill="#3c4a8a" text-anchor="middle">300</text>
<line x1="277.2" y1="1425.2" x2="283.7" y2="1425.2" stroke="#232323" stroke-width="2.6"/>
<text x="252.4" y="1432.0" font-size="19.5" font-weight="bold" fill="#3c4a8a" text-anchor="middle">18000</text>
<line x1="277.2" y1="1444.3" x2="283.7" y2="1444.3" stroke="#232323" stroke-width="2.6"/>
<text x="252.4" y="1451.1" font-size="19.5" font-weight="bold" fill="#3c4a8a" text-anchor="middle">16000</text>
<line x1="277.2" y1="1465.9" x2="283.7" y2="1465.9" stroke="#232323" stroke-width="2.6"/>
<text x="252.4" y="1472.7" font-size="19.5" font-weight="bold" fill="#3c4a8a" text-anchor="middle">14000</text>
<line x1="277.2" y1="1490.9" x2="283.7" y2="1490.9" stroke="#232323" stroke-width="2.6"/>
<text x="252.4" y="1497.7" font-size="19.5" font-weight="bold" fill="#3c4a8a" text-anchor="middle">12000</text>
<line x1="277.2" y1="1520.5" x2="283.7" y2="1520.5" stroke="#232323" stroke-width="2.6"/>
<text x="252.4" y="1527.3" font-size="19.5" font-weight="bold" fill="#3c4a8a" text-anchor="middle">10000</text>
<line x1="277.2" y1="1537.6" x2="283.7" y2="1537.6" stroke="#232323" stroke-width="2.6"/>
<text x="252.4" y="1544.4" font-size="19.5" font-weight="bold" fill="#3c4a8a" text-anchor="middle">9000</text>
<line x1="277.2" y1="1556.7" x2="283.7" y2="1556.7" stroke="#232323" stroke-width="2.6"/>
<text x="252.4" y="1563.5" font-size="19.5" font-weight="bold" fill="#3c4a8a" text-anchor="middle">8000</text>
<line x1="277.2" y1="1578.3" x2="283.7" y2="1578.3" stroke="#232323" stroke-width="2.6"/>
<text x="252.4" y="1585.1" font-size="19.5" font-weight="bold" fill="#3c4a8a" text-anchor="middle">7000</text>
<line x1="277.2" y1="1603.3" x2="283.7" y2="1603.3" stroke="#232323" stroke-width="2.6"/>
<text x="252.4" y="1610.1" font-size="19.5" font-weight="bold" fill="#3c4a8a" text-anchor="middle">6000</text>
<line x1="277.2" y1="1632.9" x2="283.7" y2="1632.9" stroke="#232323" stroke-width="2.6"/>
<text x="252.4" y="1639.7" font-size="19.5" font-weight="bold" fill="#3c4a8a" text-anchor="middle">5000</text>
<line x1="277.2" y1="1669.1" x2="283.7" y2="1669.1" stroke="#232323" stroke-width="2.6"/>
<text x="252.4" y="1675.9" font-size="19.5" font-weight="bold" fill="#3c4a8a" text-anchor="middle">4000</text>
<line x1="277.2" y1="1695.4" x2="283.7" y2="1695.4" stroke="#232323" stroke-width="2.6"/>
<text x="252.4" y="1702.2" font-size="19.5" font-weight="bold" fill="#3c4a8a" text-anchor="middle">3400</text>
<line x1="277.2" y1="1715.7" x2="283.7" y2="1715.7" stroke="#232323" stroke-width="2.6"/>
<text x="252.4" y="1722.5" font-size="19.5" font-weight="bold" fill="#3c4a8a" text-anchor="middle">3000</text>
<line x1="277.2" y1="1751.9" x2="283.7" y2="1751.9" stroke="#232323" stroke-width="2.6"/>
<text x="252.4" y="1758.7" font-size="19.5" font-weight="bold" fill="#3c4a8a" text-anchor="middle">2400</text>
<line x1="277.2" y1="1781.5" x2="283.7" y2="1781.5" stroke="#232323" stroke-width="2.6"/>
<text x="252.4" y="1788.3" font-size="19.5" font-weight="bold" fill="#3c4a8a" text-anchor="middle">2000</text>
<line x1="277.2" y1="1798.6" x2="283.7" y2="1798.6" stroke="#232323" stroke-width="2.6"/>
<text x="252.4" y="1805.4" font-size="19.5" font-weight="bold" fill="#3c4a8a" text-anchor="middle">1800</text>
<line x1="277.2" y1="1817.7" x2="283.7" y2="1817.7" stroke="#232323" stroke-width="2.6"/>
<text x="252.4" y="1824.5" font-size="19.5" font-weight="bold" fill="#3c4a8a" text-anchor="middle">1600</text>
<line x1="277.2" y1="1839.3" x2="283.7" y2="1839.3" stroke="#232323" stroke-width="2.6"/>
<text x="252.4" y="1846.1" font-size="19.5" font-weight="bold" fill="#3c4a8a" text-anchor="middle">1400</text>
<line x1="277.2" y1="1864.3" x2="283.7" y2="1864.3" stroke="#232323" stroke-width="2.6"/>
<text x="252.4" y="1871.1" font-size="19.5" font-weight="bold" fill="#3c4a8a" text-anchor="middle">1200</text>
<line x1="277.2" y1="1893.9" x2="283.7" y2="1893.9" stroke="#232323" stroke-width="2.6"/>
<text x="252.4" y="1900.7" font-size="19.5" font-weight="bold" fill="#3c4a8a" text-anchor="middle">1000</text>
<line x1="277.2" y1="1911.0" x2="283.7" y2="1911.0" stroke="#232323" stroke-width="2.6"/>
<text x="252.4" y="1917.8" font-size="19.5" font-weight="bold" fill="#3c4a8a" text-anchor="middle">900</text>
<line x1="277.2" y1="1930.1" x2="283.7" y2="1930.1" stroke="#232323" stroke-width="2.6"/>
<text x="252.4" y="1936.9" font-size="19.5" font-weight="bold" fill="#3c4a8a" text-anchor="middle">800</text>
<line x1="277.2" y1="1951.7" x2="283.7" y2="1951.7" stroke="#232323" stroke-width="2.6"/>
<text x="252.4" y="1958.5" font-size="19.5" font-weight="bold" fill="#3c4a8a" text-anchor="middle">700</text>
<line x1="277.2" y1="1976.7" x2="283.7" y2="1976.7" stroke="#232323" stroke-width="2.6"/>
<text x="252.4" y="1983.5" font-size="19.5" font-weight="bold" fill="#3c4a8a" text-anchor="middle">600</text>
<line x1="277.2" y1="2006.3" x2="283.7" y2="2006.3" stroke="#232323" stroke-width="2.6"/>
<text x="252.4" y="2013.1" font-size="19.5" font-weight="bold" fill="#3c4a8a" text-anchor="middle">500</text>
<line x1="277.2" y1="2042.5" x2="283.7" y2="2042.5" stroke="#232323" stroke-width="2.6"/>
<text x="252.4" y="2049.3" font-size="19.5" font-weight="bold" fill="#3c4a8a" text-anchor="middle">400</text>
<text x="149.6" y="2089.6" font-size="19.5" font-weight="bold" fill="#3c4a8a" text-anchor="middle">200°C</text>
<text x="219.3" y="2089.6" font-size="19.5" font-weight="bold" fill="#3c4a8a" text-anchor="middle">100°C</text>
<text x="280.8" y="2089.6" font-size="19.5" font-weight="bold" fill="#3c4a8a" text-anchor="middle">20°C</text>
<line x1="319.0" y1="2067.0" x2="319.0" y2="2073.0" stroke="#232323" stroke-width="2.6"/>
<text x="319.0" y="2089.6" font-size="19.5" font-weight="bold" fill="#3c4a8a" text-anchor="middle">1</text>
<line x1="348.6" y1="2067.0" x2="348.6" y2="2073.0" stroke="#232323" stroke-width="2.6"/>
<text x="348.6" y="2089.6" font-size="19.5" font-weight="bold" fill="#3c4a8a" text-anchor="middle">1,2</text>
<line x1="395.3" y1="2067.0" x2="395.3" y2="2073.0" stroke="#232323" stroke-width="2.6"/>
<text x="395.3" y="2089.6" font-size="19.5" font-weight="bold" fill="#3c4a8a" text-anchor="middle">1,6</text>
<line x1="431.5" y1="2067.0" x2="431.5" y2="2073.0" stroke="#232323" stroke-width="2.6"/>
<text x="431.5" y="2089.6" font-size="19.5" font-weight="bold" fill="#3c4a8a" text-anchor="middle">2</text>
<line x1="461.1" y1="2067.0" x2="461.1" y2="2073.0" stroke="#232323" stroke-width="2.6"/>
<text x="461.1" y="2089.6" font-size="19.5" font-weight="bold" fill="#3c4a8a" text-anchor="middle">2,4</text>
<line x1="497.3" y1="2067.0" x2="497.3" y2="2073.0" stroke="#232323" stroke-width="2.6"/>
<text x="497.3" y="2089.6" font-size="19.5" font-weight="bold" fill="#3c4a8a" text-anchor="middle">3</text>
<line x1="544.0" y1="2067.0" x2="544.0" y2="2073.0" stroke="#232323" stroke-width="2.6"/>
<text x="544.0" y="2089.6" font-size="19.5" font-weight="bold" fill="#3c4a8a" text-anchor="middle">4</text>
<line x1="580.2" y1="2067.0" x2="580.2" y2="2073.0" stroke="#232323" stroke-width="2.6"/>
<text x="580.2" y="2089.6" font-size="19.5" font-weight="bold" fill="#3c4a8a" text-anchor="middle">5</text>
<line x1="609.8" y1="2067.0" x2="609.8" y2="2073.0" stroke="#232323" stroke-width="2.6"/>
<text x="609.8" y="2089.6" font-size="19.5" font-weight="bold" fill="#3c4a8a" text-anchor="middle">6</text>
<line x1="656.5" y1="2067.0" x2="656.5" y2="2073.0" stroke="#232323" stroke-width="2.6"/>
<text x="656.5" y="2089.6" font-size="19.5" font-weight="bold" fill="#3c4a8a" text-anchor="middle">8</text>
<line x1="692.7" y1="2067.0" x2="692.7" y2="2073.0" stroke="#232323" stroke-width="2.6"/>
<text x="692.7" y="2089.6" font-size="19.5" font-weight="bold" fill="#3c4a8a" text-anchor="middle">10</text>
<line x1="722.3" y1="2067.0" x2="722.3" y2="2073.0" stroke="#232323" stroke-width="2.6"/>
<text x="722.3" y="2089.6" font-size="19.5" font-weight="bold" fill="#3c4a8a" text-anchor="middle">12</text>
<line x1="769.0" y1="2067.0" x2="769.0" y2="2073.0" stroke="#232323" stroke-width="2.6"/>
<text x="769.0" y="2089.6" font-size="19.5" font-weight="bold" fill="#3c4a8a" text-anchor="middle">16</text>
<text x="148" y="1361.8" font-size="27.5" font-weight="bold" fill="#3c4a8a" textLength="74.5" lengthAdjust="spacingAndGlyphs">P<tspan font-size="12.5" dy="4.5">v</tspan><tspan dy="-4.5">, Па</tspan></text>
<text x="671" y="2124.5" font-size="27.5" font-weight="bold" fill="#3c4a8a" textLength="168.5" lengthAdjust="spacingAndGlyphs">Q, 10<tspan font-size="15" dy="-10">3</tspan><tspan dy="10">·м</tspan><tspan font-size="15" dy="-10">3</tspan><tspan dy="10">/год</tspan></text>
<path d="M951.7,1739.9 L990.0,1718.0 L1150.0,1790.0 L1111.2,1808.8 Z" fill="#ffffff" stroke="#161616" stroke-width="1.6"/>
<path d="M951.7,1740.0 L971.1,1753.9 L971.1,1812.0 L951.7,1803.4 Z" fill="#c3bccd" stroke="#161616" stroke-width="1.6"/>
<path d="M971.0,1782.0 L1094.0,1851.0 L1094.0,1900.0 L971.0,1830.0 Z" fill="#f4f4f4" stroke="#161616" stroke-width="1.2"/>
<path d="M985.0,1800.0 L1010.0,1790.0 L1040.0,1806.0 L1012.0,1818.0 Z" fill="#dcdcdc" stroke="#161616" stroke-width="1"/>
<path d="M971.1,1756.0 L1094.0,1827.2 L1094.0,1850.9 L971.1,1781.9 Z" fill="#c3bccd" stroke="#161616" stroke-width="1.6"/>
<path d="M1128.0,1822.0 L1185.0,1853.0 L1185.0,1876.0 L1128.0,1846.0 Z" fill="#c3bccd" stroke="#161616" stroke-width="1.6"/>
<path d="M1128.0,1846.0 L1185.0,1876.0 L1185.0,1905.0 L1128.0,1890.0 Z" fill="#f0f0f0" stroke="#161616" stroke-width="1.2"/>
<path d="M1094.0,1812.0 L1128.4,1812.0 L1128.4,1904.7 L1094.0,1890.0 Z" fill="#c3bccd" stroke="#161616" stroke-width="1.6"/>
<rect x="1100.0" y="1835.0" width="10.0" height="14.0" fill="none" stroke="#161616" stroke-width="1.4"/>
<rect x="1100.0" y="1865.0" width="10.0" height="22.0" fill="none" stroke="#161616" stroke-width="1.4"/>
<line x1="1111.0" y1="1812.0" x2="1111.0" y2="1900.0" stroke="#161616" stroke-width="1.4"/>
<path d="M931.3,1794.8 L1143.5,1928.4 L1143.5,1945.0 L931.3,1812.0 Z" fill="#c3bccd" stroke="#161616" stroke-width="1.6"/>
<path d="M931.3,1812.0 L1143.5,1945.0 L1141.4,1954.3 L914.0,1825.0 Z" fill="#ffffff" stroke="#161616" stroke-width="1.6"/>
<circle cx="935.0" cy="1823.0" r="2.5" fill="none" stroke="#161616" stroke-width="1.4"/>
<circle cx="1064.0" cy="1898.0" r="2.5" fill="#161616" stroke="none" stroke-width="1"/>
<path d="M1005.6,1876.7 L1005.6,1830 Q1005.6,1814.2 1022,1814.2 L1034,1814.2 Q1050.9,1814.2 1050.9,1832 L1050.9,1876.7 Z" fill="#c3bccd" stroke="#161616" stroke-width="1.8"/>
<ellipse cx="1027.2" cy="1842.2" rx="9.5" ry="7.5" transform="rotate(20 1027.2 1842.2)" fill="#fff" stroke="#161616" stroke-width="2.2"/>
<path d="M978.0,1712.0 L1000.0,1716.0 L1002.0,1736.0 L984.0,1738.0 Z" fill="#3a3d84" stroke="#161616" stroke-width="1.4"/>
<path d="M1030.0,1738.0 L1056.0,1744.0 L1058.0,1766.0 L1036.0,1764.0 Z" fill="#3a3d84" stroke="#161616" stroke-width="1.4"/>
<g transform="translate(962,1640) rotate(26)">
<rect x="0.0" y="-57.0" width="130.0" height="114.0" fill="#363a80" stroke="#161616" stroke-width="1.8"/>
<line x1="8.0" y1="-50.0" x2="122.0" y2="-50.0" stroke="#6468b6" stroke-width="3.4"/>
<line x1="8.0" y1="-42.8" x2="122.0" y2="-42.8" stroke="#6468b6" stroke-width="3.4"/>
<line x1="8.0" y1="-35.6" x2="122.0" y2="-35.6" stroke="#6468b6" stroke-width="3.4"/>
<line x1="8.0" y1="-28.4" x2="122.0" y2="-28.4" stroke="#6468b6" stroke-width="3.4"/>
<line x1="8.0" y1="-21.2" x2="122.0" y2="-21.2" stroke="#6468b6" stroke-width="3.4"/>
<line x1="8.0" y1="-14.0" x2="122.0" y2="-14.0" stroke="#6468b6" stroke-width="3.4"/>
<line x1="8.0" y1="-6.8" x2="122.0" y2="-6.8" stroke="#6468b6" stroke-width="3.4"/>
<line x1="8.0" y1="0.4" x2="122.0" y2="0.4" stroke="#6468b6" stroke-width="3.4"/>
<line x1="8.0" y1="7.6" x2="122.0" y2="7.6" stroke="#6468b6" stroke-width="3.4"/>
<line x1="8.0" y1="14.8" x2="122.0" y2="14.8" stroke="#6468b6" stroke-width="3.4"/>
<line x1="8.0" y1="22.0" x2="122.0" y2="22.0" stroke="#6468b6" stroke-width="3.4"/>
<line x1="8.0" y1="29.2" x2="122.0" y2="29.2" stroke="#6468b6" stroke-width="3.4"/>
<line x1="8.0" y1="36.4" x2="122.0" y2="36.4" stroke="#6468b6" stroke-width="3.4"/>
<line x1="8.0" y1="43.6" x2="122.0" y2="43.6" stroke="#6468b6" stroke-width="3.4"/>
<line x1="8.0" y1="50.8" x2="122.0" y2="50.8" stroke="#6468b6" stroke-width="3.4"/>
<ellipse cx="128" cy="0" rx="24" ry="63" fill="#5a5eae" stroke="#161616" stroke-width="1.8"/>
<ellipse cx="140" cy="0" rx="17" ry="52" fill="#4a4e9c" stroke="#222" stroke-width="1.4"/>
<ellipse cx="0" cy="0" rx="21" ry="61" fill="#5054a2" stroke="#161616" stroke-width="1.8"/>
<ellipse cx="3" cy="0" rx="14" ry="51" fill="#2e3172" stroke="#222" stroke-width="1.2"/>
<line x1="-4.0" y1="-42.0" x2="10.0" y2="-42.0" stroke="#5b5fae" stroke-width="2.4"/>
<line x1="-4.0" y1="-33.6" x2="10.0" y2="-33.6" stroke="#5b5fae" stroke-width="2.4"/>
<line x1="-4.0" y1="-25.2" x2="10.0" y2="-25.2" stroke="#5b5fae" stroke-width="2.4"/>
<line x1="-4.0" y1="-16.8" x2="10.0" y2="-16.8" stroke="#5b5fae" stroke-width="2.4"/>
<line x1="-4.0" y1="-8.4" x2="10.0" y2="-8.4" stroke="#5b5fae" stroke-width="2.4"/>
<line x1="-4.0" y1="0.0" x2="10.0" y2="0.0" stroke="#5b5fae" stroke-width="2.4"/>
<line x1="-4.0" y1="8.4" x2="10.0" y2="8.4" stroke="#5b5fae" stroke-width="2.4"/>
<line x1="-4.0" y1="16.8" x2="10.0" y2="16.8" stroke="#5b5fae" stroke-width="2.4"/>
<line x1="-4.0" y1="25.2" x2="10.0" y2="25.2" stroke="#5b5fae" stroke-width="2.4"/>
<line x1="-4.0" y1="33.6" x2="10.0" y2="33.6" stroke="#5b5fae" stroke-width="2.4"/>
<line x1="-4.0" y1="42.0" x2="10.0" y2="42.0" stroke="#5b5fae" stroke-width="2.4"/>
</g>
<path d="M1069.0,1629.6 L1086.6,1622.2 L1112.4,1635.0 L1088.0,1645.9 Z" fill="#6266b4" stroke="#161616" stroke-width="1.6"/>
<path d="M1069.0,1629.6 L1088.0,1645.9 L1088.0,1671.6 L1069.0,1656.7 Z" fill="#3e4290" stroke="#161616" stroke-width="1.6"/>
<path d="M1088.0,1645.9 L1112.4,1635.0 L1112.4,1658.0 L1088.0,1671.6 Z" fill="#5256a4" stroke="#161616" stroke-width="1.6"/>
<path d="M1074.6,1777.6 L1117.7,1795.0 L1117.7,1805.6 L1074.6,1788.0 Z" fill="#e6e640" stroke="#161616" stroke-width="1"/>
<path d="M1084.0,1699.0 L1132.0,1670.5 L1183.2,1693.5 L1138.2,1720.8 Z" fill="#e8e83c" stroke="#161616" stroke-width="1"/>
<path d="M1084.0,1699.0 L1138.2,1720.8 L1138.2,1799.0 L1084.0,1775.0 Z" fill="#8f8f4e" stroke="#161616" stroke-width="1"/>
<path d="M1138.2,1720.8 L1183.2,1693.5 L1183.2,1781.5 L1138.2,1799.0 Z" fill="#c4c45a" stroke="#161616" stroke-width="1"/>
<path d="M1145.7,1784.0 L1171.6,1790.0 L1171.6,1801.3 L1145.7,1795.0 Z" fill="#d8d8d8" stroke="#161616" stroke-width="1.4"/>
<ellipse cx="1160" cy="1745" rx="14" ry="24" transform="rotate(20 1160 1745)" fill="#d0d0d8" stroke="#888" stroke-width="1"/>
<path d="M1160.0,1722.0 L1200.0,1738.0 L1200.0,1770.0 L1160.0,1768.0 Z" fill="#e4e4ea" stroke="#777" stroke-width="1"/>
<ellipse cx="1200" cy="1754" rx="12" ry="20" transform="rotate(20 1200 1754)" fill="#cfcfd6" stroke="#161616" stroke-width="2"/>
<path d="M1190.0,1745.0 L1205.0,1738.0 L1215.0,1790.0 L1200.0,1800.0 Z" fill="#c3bccd" stroke="#161616" stroke-width="1.6"/>
<path d="M1452,1688 Q1500,1720 1497,1815 Q1494,1905 1454,1944 Z" fill="#a6a6a6" stroke="#161616" stroke-width="2"/>
<rect x="1446.0" y="1688.0" width="9.0" height="257.0" fill="#cfcfcf" stroke="#161616" stroke-width="1.6"/>
<path d="M1172,1862 C1168,1780 1215,1700 1294,1653 C1340,1636 1400,1650 1449,1684 L1446,1690 L1278.6,1781.9 C1245,1820 1232,1880 1238,1960 L1200,1935 C1185,1915 1174,1890 1172,1862 Z" fill="url(#gScroll)" stroke="#161616" stroke-width="2.4"/>
<path d="M1215,1705 C1240,1700 1290,1680 1320,1660" fill="none" stroke="#555" stroke-width="1" stroke-dasharray="4,3"/>
<path d="M1185,1880 C1190,1800 1230,1740 1270,1712" fill="none" stroke="#555" stroke-width="1" stroke-dasharray="4,3"/>
<line x1="1290.0" y1="1665.0" x2="1330.0" y2="1705.0" stroke="#161616" stroke-width="1.6"/>
<path d="M1270.0,1772.0 L1442.0,1680.0 L1448.0,1690.0 L1278.6,1781.9 Z" fill="#d8d8d8" stroke="#161616" stroke-width="1.6"/>
<path d="M1278.6,1781.9 L1446,1690 L1446,1945 L1372,2043 L1238.6,2103 L1236,1990 C1232,1900 1245,1830 1278.6,1781.9 Z" fill="#9e9e9e" stroke="#161616" stroke-width="2"/>
<text transform="translate(1306,1762) rotate(-28)" font-size="24" font-weight="bold" fill="#ffffff" textLength="136" lengthAdjust="spacingAndGlyphs">ukrvent.ua</text>
<ellipse cx="1362" cy="1857" rx="79" ry="97" transform="rotate(6.5 1362 1857)" fill="#bdbdbd" stroke="#161616" stroke-width="2"/>
<ellipse cx="1365" cy="1858" rx="70" ry="88" transform="rotate(6.5 1365 1858)" fill="#a9a9a9" stroke="#161616" stroke-width="1.6"/>
<ellipse cx="1371.7" cy="1861.7" rx="62" ry="80" transform="rotate(6.5 1371.7 1861.7)" fill="#a85c5c" stroke="#161616" stroke-width="2.2"/>
<clipPath id="impClip"><ellipse cx="1371.7" cy="1861.7" rx="61" ry="79" transform="rotate(6.5 1371.7 1861.7)"/></clipPath>
<g clip-path="url(#impClip)">
<path d="M1300,1780 L1350,1780 C1330,1830 1325,1900 1345,1960 L1300,1960 Z" fill="#7a3434" stroke="none" stroke-width="1"/>
<line x1="1305.0" y1="1790.0" x2="1360.0" y2="1782.0" stroke="#2a1010" stroke-width="2.2"/>
<line x1="1305.0" y1="1802.0" x2="1360.0" y2="1795.0" stroke="#2a1010" stroke-width="2.2"/>
<line x1="1305.0" y1="1814.0" x2="1360.0" y2="1808.0" stroke="#2a1010" stroke-width="2.2"/>
<line x1="1305.0" y1="1826.0" x2="1360.0" y2="1818.0" stroke="#2a1010" stroke-width="2.2"/>
<line x1="1305.0" y1="1838.0" x2="1360.0" y2="1831.0" stroke="#2a1010" stroke-width="2.2"/>
<line x1="1305.0" y1="1850.0" x2="1360.0" y2="1844.0" stroke="#2a1010" stroke-width="2.2"/>
<line x1="1305.0" y1="1862.0" x2="1360.0" y2="1854.0" stroke="#2a1010" stroke-width="2.2"/>
<line x1="1305.0" y1="1874.0" x2="1360.0" y2="1867.0" stroke="#2a1010" stroke-width="2.2"/>
<line x1="1305.0" y1="1886.0" x2="1360.0" y2="1880.0" stroke="#2a1010" stroke-width="2.2"/>
<line x1="1305.0" y1="1898.0" x2="1360.0" y2="1890.0" stroke="#2a1010" stroke-width="2.2"/>
<line x1="1305.0" y1="1910.0" x2="1360.0" y2="1903.0" stroke="#2a1010" stroke-width="2.2"/>
<line x1="1305.0" y1="1922.0" x2="1360.0" y2="1916.0" stroke="#2a1010" stroke-width="2.2"/>
<line x1="1305.0" y1="1934.0" x2="1360.0" y2="1926.0" stroke="#2a1010" stroke-width="2.2"/>
<line x1="1305.0" y1="1946.0" x2="1360.0" y2="1939.0" stroke="#2a1010" stroke-width="2.2"/>
<line x1="1330.0" y1="1925.0" x2="1420.0" y2="1945.0" stroke="#2a1010" stroke-width="1.4"/>
</g>
<circle cx="1434.1" cy="1873.0" r="2.2" fill="none" stroke="#161616" stroke-width="1.2"/>
<circle cx="1418.1" cy="1916.1" r="2.2" fill="none" stroke="#161616" stroke-width="1.2"/>
<circle cx="1387.1" cy="1943.5" r="2.2" fill="none" stroke="#161616" stroke-width="1.2"/>
<circle cx="1349.3" cy="1947.6" r="2.2" fill="none" stroke="#161616" stroke-width="1.2"/>
<circle cx="1314.9" cy="1927.5" r="2.2" fill="none" stroke="#161616" stroke-width="1.2"/>
<circle cx="1293.2" cy="1888.5" r="2.2" fill="none" stroke="#161616" stroke-width="1.2"/>
<circle cx="1289.9" cy="1841.0" r="2.2" fill="none" stroke="#161616" stroke-width="1.2"/>
<circle cx="1305.9" cy="1797.9" r="2.2" fill="none" stroke="#161616" stroke-width="1.2"/>
<circle cx="1336.9" cy="1770.5" r="2.2" fill="none" stroke="#161616" stroke-width="1.2"/>
<circle cx="1374.7" cy="1766.4" r="2.2" fill="none" stroke="#161616" stroke-width="1.2"/>
<circle cx="1409.1" cy="1786.5" r="2.2" fill="none" stroke="#161616" stroke-width="1.2"/>
<circle cx="1430.8" cy="1825.5" r="2.2" fill="none" stroke="#161616" stroke-width="1.2"/>
<ellipse cx="1303.8" cy="2015.5" rx="46" ry="56.7" transform="rotate(10 1303.8 2015.5)" fill="#a8a8a8" stroke="#161616" stroke-width="2"/>
<ellipse cx="1306" cy="2018" rx="26" ry="33" transform="rotate(10 1306 2018)" fill="none" stroke="#161616" stroke-width="1.8"/>
<circle cx="1339.5" cy="2031.6" r="3.2" fill="#888" stroke="#161616" stroke-width="1.4"/>
<circle cx="1319.9" cy="2058.1" r="3.2" fill="#888" stroke="#161616" stroke-width="1.4"/>
<circle cx="1290.8" cy="2059.7" r="3.2" fill="#888" stroke="#161616" stroke-width="1.4"/>
<circle cx="1269.4" cy="2035.4" r="3.2" fill="#888" stroke="#161616" stroke-width="1.4"/>
<circle cx="1268.1" cy="1999.4" r="3.2" fill="#888" stroke="#161616" stroke-width="1.4"/>
<circle cx="1287.7" cy="1972.9" r="3.2" fill="#888" stroke="#161616" stroke-width="1.4"/>
<circle cx="1316.8" cy="1971.3" r="3.2" fill="#888" stroke="#161616" stroke-width="1.4"/>
<circle cx="1338.2" cy="1995.6" r="3.2" fill="#888" stroke="#161616" stroke-width="1.4"/>
<path d="M1290,2025 C1300,2030 1318,2030 1320,2005" fill="none" stroke="#fff" stroke-width="4"/>
<path d="M1290,2025 C1300,2030 1318,2030 1320,2005" fill="none" stroke="#161616" stroke-width="1.2"/>
<path d="M1130,1920 C1150,1925 1170,1915 1180,1905 C1195,1925 1220,1945 1250,1955 L1250,1992 L1236,1990 Z" fill="#d0d0d0" stroke="#161616" stroke-width="1.8"/>
<path d="M1143.7,1929.0 L1235.8,1984.3 L1235.8,2128.8 L1143.7,2075.0 Z" fill="#bcbcbc" stroke="#161616" stroke-width="2"/>
<path d="M1155.0,1950.3 L1224.4,1990.0 L1224.4,2106.0 L1155.0,2069.3 Z" fill="#5c3232" stroke="#161616" stroke-width="2.2"/>
<path d="M1155.0,2063.6 L1224.4,2035.3 L1224.4,2106.0 L1155.0,2069.3 Z" fill="#aa5a5a" stroke="#161616" stroke-width="1.2"/>
<circle cx="1149.0" cy="1962.4" r="2.3" fill="none" stroke="#161616" stroke-width="1.3"/>
<circle cx="1230.0" cy="2010.6" r="2.3" fill="none" stroke="#161616" stroke-width="1.3"/>
<circle cx="1149.0" cy="1988.5" r="2.3" fill="none" stroke="#161616" stroke-width="1.3"/>
<circle cx="1230.0" cy="2034.0" r="2.3" fill="none" stroke="#161616" stroke-width="1.3"/>
<circle cx="1149.0" cy="2014.6" r="2.3" fill="none" stroke="#161616" stroke-width="1.3"/>
<circle cx="1230.0" cy="2057.4" r="2.3" fill="none" stroke="#161616" stroke-width="1.3"/>
<circle cx="1149.0" cy="2040.7" r="2.3" fill="none" stroke="#161616" stroke-width="1.3"/>
<circle cx="1230.0" cy="2080.8" r="2.3" fill="none" stroke="#161616" stroke-width="1.3"/>
<circle cx="1149.0" cy="2066.8" r="2.3" fill="none" stroke="#161616" stroke-width="1.3"/>
<circle cx="1230.0" cy="2104.2" r="2.3" fill="none" stroke="#161616" stroke-width="1.3"/>
<circle cx="1166.7" cy="1949.8" r="2.3" fill="none" stroke="#161616" stroke-width="1.3"/>
<circle cx="1166.7" cy="2084.4" r="2.3" fill="none" stroke="#161616" stroke-width="1.3"/>
<circle cx="1189.7" cy="1963.5" r="2.3" fill="none" stroke="#161616" stroke-width="1.3"/>
<circle cx="1189.7" cy="2097.9" r="2.3" fill="none" stroke="#161616" stroke-width="1.3"/>
<circle cx="1212.7" cy="1977.2" r="2.3" fill="none" stroke="#161616" stroke-width="1.3"/>
<circle cx="1212.7" cy="2111.3" r="2.3" fill="none" stroke="#161616" stroke-width="1.3"/>
</svg>
</body></html>
